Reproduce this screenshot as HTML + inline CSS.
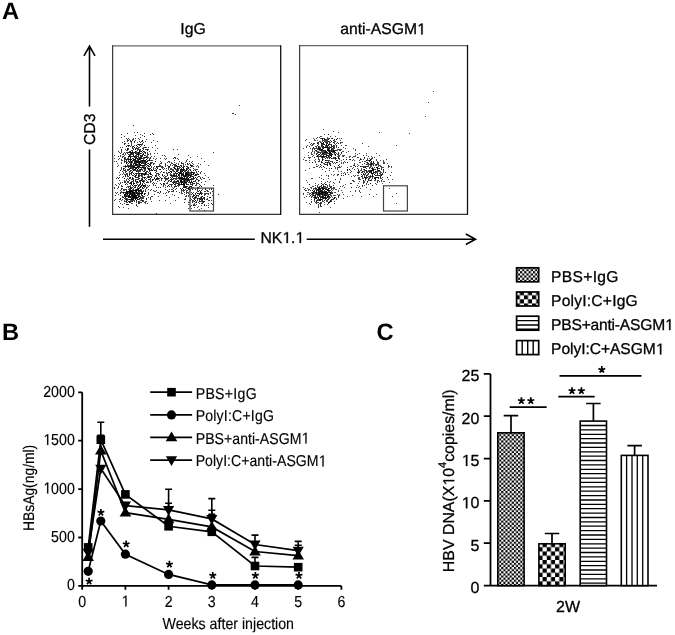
<!DOCTYPE html>
<html><head><meta charset="utf-8"><style>
html,body{margin:0;padding:0;background:#fff;}
body{width:675px;height:635px;overflow:hidden;}
svg{display:block;}
.h1{fill:none;stroke:none;}
text.tb{stroke-width:0.15px;}
text{font-family:"Liberation Sans",sans-serif;fill:#000;text-rendering:geometricPrecision;stroke:#000;stroke-width:0.3px;}
svg{will-change:transform;}
</style></head><body>
<svg width="675" height="635" viewBox="0 0 675 635">
<defs>
<pattern id="pfine" patternUnits="userSpaceOnUse" x="497" y="432" width="4.22" height="4.22"><rect width="4.22" height="4.22" fill="#fff"/><rect width="2.11" height="2.11" fill="#000"/><rect x="2.11" y="2.11" width="2.11" height="2.11" fill="#000"/></pattern>
<pattern id="pcheck" patternUnits="userSpaceOnUse" x="538.4" y="542.9" width="8.36" height="8.54"><rect width="8.36" height="8.54" fill="#fff"/><rect x="4.18" width="4.18" height="4.27" fill="#000"/><rect y="4.27" width="4.18" height="4.27" fill="#000"/></pattern>
<pattern id="pcheckL" patternUnits="userSpaceOnUse" x="515.7" y="291.1" width="8.2" height="8.2"><rect width="8.2" height="8.2" fill="#fff"/><rect x="4.1" width="4.1" height="4.1" fill="#000"/><rect y="4.1" width="4.1" height="4.1" fill="#000"/></pattern>
<pattern id="pfineL" patternUnits="userSpaceOnUse" x="515.7" y="266.9" width="4.3" height="4.3"><rect width="4.3" height="4.3" fill="#fff"/><rect width="2.15" height="2.15" fill="#000"/><rect x="2.15" y="2.15" width="2.15" height="2.15" fill="#000"/></pattern>
</defs>

<text x="2" y="19.4" font-size="23.7" font-weight="bold" style="stroke:none">A</text>
<text x="193.1" y="33.9" font-size="15.8" text-anchor="middle">IgG</text>
<text x="383" y="34.4" font-size="15.7" text-anchor="middle">anti-ASGM<tspan class="h1">1</tspan></text>
<path d="M112.6 45.8H280.7" stroke="#666" stroke-width="1.25"/><path d="M112.6 45.2V215" stroke="#3a3a3a" stroke-width="1.25"/><path d="M112.6 214.4H280.7" stroke="#333" stroke-width="1.25"/><path d="M280.7 45.2V215" stroke="#111" stroke-width="1.3"/>
<path d="M299.6 45.6H467.5" stroke="#666" stroke-width="1.25"/><path d="M299.6 45V214.9" stroke="#3a3a3a" stroke-width="1.25"/><path d="M299.6 214.3H467.5" stroke="#333" stroke-width="1.25"/><path d="M467.5 45V214.9" stroke="#111" stroke-width="1.3"/>
<path d="M134 165.5h1M134 156.5h1M128 157.5h1M144 164.5h1M144 162.5h1M139 161.5h1M123 168.5h1M139 164.5h1M122 142.5h1M129 155.5h1M138 159.5h1M140 153.5h1M138 163.5h1M130 177.5h1M140 171.5h1M131 152.5h1M133 158.5h1M140 162.5h1M132 150.5h1M131 172.5h1M129 162.5h1M139 145.5h1M136 173.5h1M120 156.5h1M135 151.5h1M139 159.5h1M124 168.5h1M141 169.5h1M147 163.5h1M136 147.5h1M140 153.5h1M132 147.5h1M128 154.5h1M146 139.5h1M124 162.5h1M147 165.5h1M121 134.5h1M138 152.5h1M127 169.5h1M144 161.5h1M137 164.5h1M148 166.5h1M140 165.5h1M123 172.5h1M143 165.5h1M120 153.5h1M142 141.5h1M134 170.5h1M125 176.5h1M140 158.5h1M138 166.5h1M136 171.5h1M130 155.5h1M144 160.5h1M129 169.5h1M147 155.5h1M125 158.5h1M134 157.5h1M146 149.5h1M145 147.5h1M129 166.5h1M144 168.5h1M138 161.5h1M137 165.5h1M134 162.5h1M140 160.5h1M141 165.5h1M151 163.5h1M132 156.5h1M135 169.5h1M133 163.5h1M150 134.5h1M127 162.5h1M139 162.5h1M132 166.5h1M138 154.5h1M154 163.5h1M131 159.5h1M134 159.5h1M114 155.5h1M143 148.5h1M135 169.5h1M142 174.5h1M122 156.5h1M133 166.5h1M144 133.5h1M144 145.5h1M141 145.5h1M137 171.5h1M134 161.5h1M142 161.5h1M135 175.5h1M144 157.5h1M157 148.5h1M143 157.5h1M137 167.5h1M137 166.5h1M124 144.5h1M140 150.5h1M127 145.5h1M145 167.5h1M147 150.5h1M136 148.5h1M141 175.5h1M129 175.5h1M143 158.5h1M120 174.5h1M135 153.5h1M139 164.5h1M147 149.5h1M144 174.5h1M147 158.5h1M130 170.5h1M136 161.5h1M147 157.5h1M118 156.5h1M121 168.5h1M138 153.5h1M135 168.5h1M136 173.5h1M135 170.5h1M147 176.5h1M130 168.5h1M121 149.5h1M120 170.5h1M126 159.5h1M134 159.5h1M131 162.5h1M149 160.5h1M140 170.5h1M134 147.5h1M131 170.5h1M123 154.5h1M143 167.5h1M136 168.5h1M137 148.5h1M123 153.5h1M143 154.5h1M128 152.5h1M124 158.5h1M126 163.5h1M117 163.5h1M130 140.5h1M141 157.5h1M118 151.5h1M138 155.5h1M142 167.5h1M141 163.5h1M146 166.5h1M139 139.5h1M142 173.5h1M133 155.5h1M151 142.5h1M139 184.5h1M128 166.5h1M150 158.5h1M140 169.5h1M128 159.5h1M138 168.5h1M135 158.5h1M128 156.5h1M142 161.5h1M129 151.5h1M156 171.5h1M140 134.5h1M140 164.5h1M149 164.5h1M135 165.5h1M120 170.5h1M138 152.5h1M146 178.5h1M125 153.5h1M138 161.5h1M132 150.5h1M152 170.5h1M126 146.5h1M149 169.5h1M150 168.5h1M129 162.5h1M119 152.5h1M135 165.5h1M130 158.5h1M139 163.5h1M140 162.5h1M133 167.5h1M136 151.5h1M131 159.5h1M135 161.5h1M135 161.5h1M134 147.5h1M139 170.5h1M139 158.5h1M139 150.5h1M121 160.5h1M128 167.5h1M127 133.5h1M127 175.5h1M133 146.5h1M130 165.5h1M139 161.5h1M147 167.5h1M135 165.5h1M148 169.5h1M143 149.5h1M134 167.5h1M133 170.5h1M140 169.5h1M134 185.5h1M145 157.5h1M136 185.5h1M133 168.5h1M143 160.5h1M126 161.5h1M138 171.5h1M142 160.5h1M142 165.5h1M137 160.5h1M134 166.5h1M127 153.5h1M136 145.5h1M132 139.5h1M130 165.5h1M140 159.5h1M134 145.5h1M150 165.5h1M144 151.5h1M134 141.5h1M142 169.5h1M121 159.5h1M140 142.5h1M121 149.5h1M131 145.5h1M136 162.5h1M140 167.5h1M147 171.5h1M125 154.5h1M127 149.5h1M135 160.5h1M139 144.5h1M126 159.5h1M134 156.5h1M135 152.5h1M141 163.5h1M135 153.5h1M134 132.5h1M128 160.5h1M124 161.5h1M137 146.5h1M134 156.5h1M139 166.5h1M135 151.5h1M134 159.5h1M141 162.5h1M130 146.5h1M133 152.5h1M127 158.5h1M132 161.5h1M140 155.5h1M154 156.5h1M144 161.5h1M144 136.5h1M130 162.5h1M140 183.5h1M138 172.5h1M141 169.5h1M139 158.5h1M139 149.5h1M145 149.5h1M137 181.5h1M134 160.5h1M145 160.5h1M129 162.5h1M140 167.5h1M129 177.5h1M149 160.5h1M138 155.5h1M147 152.5h1M141 155.5h1M130 167.5h1M146 159.5h1M130 168.5h1M135 163.5h1M147 171.5h1M131 182.5h1M136 167.5h1M130 159.5h1M122 177.5h1M146 147.5h1M124 143.5h1M145 155.5h1M135 156.5h1M135 149.5h1M136 145.5h1M135 163.5h1M139 157.5h1M128 161.5h1M132 175.5h1M141 158.5h1M132 152.5h1M128 156.5h1M138 165.5h1M140 180.5h1M130 160.5h1M157 141.5h1M131 161.5h1M137 164.5h1M134 163.5h1M136 167.5h1M121 151.5h1M135 149.5h1M127 166.5h1M130 166.5h1M141 163.5h1M139 158.5h1M125 159.5h1M139 154.5h1M135 167.5h1M129 166.5h1M150 154.5h1M137 158.5h1M148 163.5h1M143 153.5h1M135 159.5h1M122 174.5h1M143 142.5h1M141 158.5h1M139 163.5h1M124 157.5h1M147 154.5h1M128 146.5h1M126 163.5h1M149 164.5h1M137 182.5h1M131 153.5h1M140 165.5h1M128 148.5h1M138 162.5h1M125 157.5h1M131 164.5h1M135 159.5h1M133 170.5h1M146 156.5h1M142 152.5h1M136 167.5h1M147 156.5h1M135 161.5h1M124 160.5h1M130 163.5h1M127 140.5h1M136 162.5h1M131 168.5h1M133 153.5h1M139 144.5h1M130 159.5h1M142 158.5h1M138 153.5h1M138 176.5h1M130 183.5h1M130 160.5h1M137 170.5h1M126 138.5h1M140 167.5h1M140 186.5h1M137 162.5h1M143 163.5h1M148 147.5h1M133 125.5h1M142 156.5h1M143 181.5h1M135 157.5h1M132 151.5h1M131 166.5h1M136 160.5h1M134 169.5h1M139 158.5h1M141 158.5h1M127 174.5h1M139 150.5h1M144 163.5h1M123 176.5h1M138 168.5h1M137 158.5h1M123 169.5h1M136 157.5h1M138 160.5h1M141 156.5h1M135 138.5h1M132 166.5h1M146 156.5h1M135 175.5h1M133 167.5h1M149 160.5h1M145 152.5h1M137 159.5h1M136 171.5h1M154 153.5h1M131 164.5h1M127 164.5h1M140 157.5h1M140 144.5h1M141 144.5h1M130 154.5h1M132 168.5h1M136 156.5h1M140 175.5h1M136 163.5h1M145 162.5h1M125 184.5h1M153 140.5h1M135 164.5h1M143 166.5h1M133 149.5h1M136 170.5h1M127 149.5h1M135 140.5h1M133 155.5h1M139 152.5h1M129 156.5h1M135 153.5h1M136 167.5h1M145 177.5h1M129 155.5h1M116 178.5h1M130 159.5h1M140 146.5h1M139 159.5h1M121 162.5h1M145 141.5h1M142 162.5h1M139 164.5h1M146 157.5h1M142 155.5h1M141 151.5h1M135 177.5h1M139 158.5h1M127 152.5h1M137 169.5h1M139 165.5h1M135 173.5h1M132 154.5h1M142 160.5h1M133 154.5h1M133 166.5h1M138 147.5h1M139 161.5h1M128 167.5h1M133 156.5h1M142 173.5h1M130 164.5h1M129 183.5h1M132 171.5h1M130 168.5h1M153 134.5h1M132 165.5h1M135 153.5h1M152 160.5h1M123 168.5h1M122 171.5h1M131 161.5h1M145 161.5h1M125 143.5h1M145 167.5h1M129 168.5h1M139 166.5h1M118 156.5h1M143 167.5h1M142 135.5h1M137 164.5h1M155 150.5h1M133 160.5h1M142 155.5h1M144 152.5h1M138 154.5h1M137 153.5h1M123 170.5h1M138 154.5h1M137 169.5h1M128 158.5h1M140 165.5h1M133 138.5h1M145 163.5h1M136 157.5h1M138 155.5h1M128 152.5h1M131 153.5h1M126 166.5h1M125 166.5h1M128 163.5h1M146 162.5h1M130 160.5h1M137 142.5h1M131 161.5h1M132 160.5h1M141 167.5h1M143 165.5h1M133 159.5h1M133 156.5h1M134 142.5h1M133 159.5h1M128 159.5h1M140 158.5h1M152 133.5h1M134 141.5h1M143 186.5h1M116 161.5h1M140 156.5h1M140 137.5h1M142 163.5h1M136 154.5h1M140 155.5h1M137 154.5h1M118 159.5h1M137 167.5h1M129 159.5h1M140 161.5h1M145 179.5h1M128 140.5h1M142 175.5h1M143 168.5h1M131 152.5h1M142 150.5h1M121 150.5h1M155 179.5h1M130 152.5h1M137 152.5h1M146 159.5h1M127 173.5h1M131 162.5h1M135 156.5h1M138 153.5h1M121 137.5h1M126 152.5h1M135 160.5h1M140 161.5h1M129 152.5h1M119 158.5h1M139 165.5h1M135 158.5h1M143 160.5h1M141 165.5h1M137 173.5h1M131 156.5h1M129 152.5h1M148 177.5h1M136 165.5h1M145 168.5h1M145 147.5h1M131 164.5h1M147 161.5h1M129 156.5h1M130 151.5h1M147 153.5h1M136 181.5h1M145 163.5h1M131 164.5h1M148 166.5h1M145 160.5h1M140 157.5h1M139 173.5h1M124 159.5h1M137 154.5h1M133 167.5h1M151 166.5h1M138 144.5h1M151 160.5h1M135 148.5h1M135 149.5h1M136 164.5h1M136 162.5h1M129 174.5h1M130 141.5h1M134 152.5h1M128 156.5h1M138 148.5h1M134 174.5h1M141 158.5h1M136 158.5h1M135 167.5h1M135 135.5h1M135 151.5h1M141 153.5h1M137 181.5h1M127 148.5h1M124 136.5h1M121 163.5h1M131 141.5h1M124 166.5h1M129 156.5h1M138 173.5h1M151 170.5h1M137 161.5h1M150 174.5h1M133 164.5h1M138 160.5h1M132 146.5h1M131 144.5h1M145 165.5h1M126 173.5h1M142 140.5h1M150 168.5h1M152 147.5h1M140 164.5h1M137 161.5h1M144 145.5h1M126 146.5h1M131 153.5h1M138 162.5h1M136 153.5h1M132 169.5h1M141 161.5h1M133 175.5h1M131 166.5h1M144 157.5h1M142 148.5h1M143 161.5h1M123 166.5h1M129 172.5h1M130 158.5h1M138 156.5h1M138 154.5h1M141 160.5h1M137 132.5h1M145 160.5h1M122 160.5h1M139 170.5h1M127 175.5h1M134 183.5h1M134 166.5h1M133 148.5h1M144 169.5h1M148 168.5h1M131 143.5h1M130 153.5h1M129 165.5h1M138 157.5h1M137 158.5h1M137 167.5h1M143 153.5h1M124 174.5h1M136 171.5h1M123 156.5h1M136 145.5h1M131 167.5h1M144 175.5h1M129 145.5h1M140 169.5h1M137 146.5h1M142 167.5h1M140 155.5h1M138 167.5h1M131 141.5h1M138 164.5h1M136 168.5h1M131 159.5h1M133 165.5h1M148 157.5h1M152 175.5h1M142 165.5h1M149 158.5h1M135 149.5h1M139 173.5h1M140 164.5h1M134 161.5h1M124 170.5h1M132 148.5h1M130 151.5h1M142 170.5h1M125 169.5h1M142 154.5h1M124 152.5h1M131 163.5h1M133 139.5h1M137 144.5h1M143 147.5h1M130 151.5h1M131 172.5h1M142 166.5h1M138 144.5h1M131 154.5h1M128 165.5h1M130 152.5h1M127 139.5h1M140 173.5h1M137 150.5h1M114 161.5h1M145 162.5h1M143 174.5h1M144 155.5h1M144 167.5h1M124 155.5h1M124 158.5h1M140 149.5h1M119 172.5h1M138 174.5h1M125 170.5h1M152 180.5h1M134 162.5h1M134 169.5h1M144 160.5h1M125 167.5h1M132 166.5h1M138 176.5h1M144 155.5h1M138 177.5h1M131 164.5h1M145 172.5h1M140 146.5h1M126 162.5h1M139 185.5h1M129 171.5h1M142 143.5h1M129 161.5h1M132 158.5h1M139 151.5h1M139 153.5h1M131 165.5h1M131 162.5h1M148 160.5h1M134 167.5h1M133 170.5h1M125 166.5h1M132 152.5h1M149 151.5h1M149 166.5h1M147 150.5h1M145 174.5h1M135 158.5h1M155 161.5h1M132 153.5h1M139 163.5h1M137 177.5h1M133 164.5h1M147 149.5h1M144 178.5h1M125 149.5h1M127 141.5h1M139 141.5h1M139 174.5h1M123 156.5h1M121 167.5h1M130 157.5h1M136 165.5h1M133 160.5h1M131 161.5h1M126 160.5h1M120 155.5h1M150 160.5h1M126 162.5h1M128 143.5h1M130 167.5h1M138 159.5h1M128 149.5h1M146 162.5h1M128 138.5h1M125 184.5h1M127 159.5h1M137 158.5h1M133 146.5h1M127 176.5h1M130 168.5h1M122 157.5h1M138 170.5h1M127 165.5h1M139 152.5h1M139 151.5h1M129 159.5h1M114 158.5h1M128 145.5h1M132 167.5h1M132 172.5h1M126 146.5h1M148 163.5h1M143 151.5h1M142 162.5h1M141 160.5h1M145 153.5h1M128 145.5h1M145 152.5h1M127 150.5h1M132 147.5h1M133 153.5h1M131 150.5h1M136 155.5h1M136 162.5h1M138 138.5h1M131 152.5h1M142 144.5h1M130 157.5h1M133 169.5h1M132 169.5h1M124 141.5h1M145 164.5h1M139 161.5h1M139 147.5h1M143 154.5h1M143 160.5h1M120 147.5h1M144 158.5h1M132 162.5h1M132 154.5h1M136 161.5h1M147 160.5h1M150 178.5h1M149 170.5h1M137 161.5h1M134 152.5h1M135 153.5h1M148 165.5h1M132 140.5h1M135 155.5h1M127 148.5h1M118 165.5h1M135 185.5h1M135 158.5h1M147 161.5h1M137 156.5h1M131 174.5h1M143 177.5h1M133 160.5h1M129 169.5h1M125 165.5h1M144 174.5h1M128 170.5h1M130 152.5h1M125 171.5h1M148 154.5h1M130 156.5h1M155 170.5h1M131 142.5h1M130 171.5h1M150 157.5h1M130 154.5h1M121 169.5h1M127 170.5h1M122 147.5h1M138 152.5h1M142 160.5h1M126 166.5h1M142 140.5h1M150 164.5h1M141 141.5h1M130 156.5h1M144 145.5h1M129 139.5h1M134 163.5h1M122 154.5h1M139 175.5h1M141 156.5h1M126 150.5h1M130 161.5h1M135 176.5h1M138 149.5h1M148 169.5h1M136 152.5h1M121 149.5h1M143 151.5h1M125 161.5h1M137 166.5h1M141 174.5h1M129 169.5h1M128 166.5h1M137 162.5h1M143 159.5h1M144 168.5h1M137 154.5h1M130 154.5h1M134 159.5h1M159 166.5h1M141 151.5h1M130 156.5h1M137 149.5h1M148 154.5h1M144 136.5h1M135 162.5h1M137 166.5h1M138 161.5h1M121 152.5h1M117 166.5h1M138 158.5h1M129 154.5h1M145 203.5h1M132 201.5h1M121 185.5h1M129 190.5h1M129 195.5h1M154 191.5h1M133 196.5h1M132 199.5h1M145 189.5h1M134 193.5h1M135 187.5h1M120 183.5h1M136 195.5h1M133 183.5h1M130 191.5h1M123 190.5h1M137 197.5h1M132 197.5h1M128 195.5h1M133 197.5h1M132 194.5h1M132 191.5h1M148 197.5h1M136 205.5h1M142 187.5h1M137 199.5h1M146 201.5h1M138 189.5h1M126 196.5h1M136 190.5h1M130 193.5h1M133 196.5h1M130 189.5h1M141 202.5h1M132 199.5h1M136 198.5h1M136 191.5h1M137 199.5h1M126 204.5h1M147 203.5h1M146 198.5h1M130 192.5h1M127 195.5h1M132 198.5h1M118 206.5h1M148 194.5h1M137 197.5h1M134 193.5h1M132 191.5h1M134 194.5h1M135 190.5h1M133 195.5h1M137 189.5h1M135 199.5h1M137 193.5h1M129 193.5h1M138 202.5h1M131 191.5h1M135 195.5h1M126 191.5h1M132 198.5h1M124 190.5h1M136 189.5h1M133 196.5h1M132 190.5h1M132 193.5h1M135 190.5h1M140 186.5h1M131 195.5h1M139 192.5h1M136 192.5h1M138 203.5h1M130 197.5h1M126 199.5h1M141 195.5h1M125 196.5h1M141 200.5h1M138 186.5h1M128 201.5h1M124 200.5h1M146 198.5h1M140 193.5h1M124 194.5h1M131 194.5h1M137 194.5h1M134 197.5h1M132 203.5h1M136 195.5h1M131 191.5h1M142 195.5h1M125 192.5h1M132 192.5h1M140 189.5h1M136 195.5h1M124 195.5h1M132 197.5h1M129 196.5h1M121 189.5h1M138 199.5h1M132 192.5h1M140 184.5h1M127 198.5h1M137 190.5h1M119 201.5h1M134 190.5h1M133 199.5h1M114 200.5h1M138 185.5h1M138 186.5h1M140 196.5h1M148 192.5h1M133 200.5h1M128 191.5h1M130 194.5h1M125 197.5h1M136 195.5h1M144 193.5h1M142 192.5h1M138 185.5h1M134 194.5h1M129 192.5h1M130 191.5h1M117 192.5h1M129 192.5h1M125 194.5h1M138 193.5h1M129 201.5h1M139 199.5h1M141 193.5h1M132 200.5h1M129 194.5h1M135 196.5h1M131 199.5h1M131 198.5h1M140 198.5h1M138 189.5h1M123 192.5h1M136 202.5h1M124 196.5h1M127 191.5h1M131 198.5h1M134 200.5h1M126 199.5h1M139 195.5h1M136 192.5h1M125 193.5h1M128 208.5h1M129 202.5h1M134 196.5h1M138 191.5h1M139 196.5h1M122 197.5h1M136 197.5h1M144 193.5h1M136 198.5h1M126 200.5h1M122 188.5h1M136 189.5h1M132 187.5h1M133 189.5h1M135 187.5h1M136 193.5h1M133 194.5h1M133 188.5h1M115 195.5h1M126 192.5h1M135 185.5h1M127 192.5h1M125 196.5h1M132 191.5h1M126 198.5h1M128 197.5h1M136 185.5h1M125 195.5h1M135 198.5h1M138 199.5h1M130 193.5h1M138 192.5h1M140 187.5h1M137 194.5h1M119 199.5h1M135 195.5h1M125 192.5h1M143 191.5h1M124 194.5h1M130 190.5h1M127 200.5h1M122 204.5h1M129 189.5h1M138 197.5h1M125 198.5h1M120 190.5h1M140 193.5h1M123 197.5h1M139 194.5h1M120 193.5h1M135 198.5h1M145 193.5h1M129 194.5h1M141 190.5h1M142 181.5h1M138 191.5h1M136 198.5h1M124 194.5h1M134 197.5h1M126 190.5h1M119 207.5h1M131 193.5h1M122 199.5h1M129 201.5h1M138 195.5h1M138 189.5h1M130 192.5h1M124 195.5h1M131 201.5h1M126 192.5h1M135 196.5h1M133 192.5h1M136 196.5h1M120 193.5h1M123 189.5h1M134 195.5h1M133 190.5h1M131 190.5h1M135 198.5h1M145 201.5h1M127 192.5h1M126 196.5h1M146 198.5h1M117 188.5h1M123 197.5h1M133 196.5h1M145 191.5h1M127 204.5h1M135 191.5h1M118 187.5h1M115 195.5h1M133 199.5h1M132 191.5h1M127 204.5h1M120 195.5h1M133 197.5h1M130 197.5h1M138 194.5h1M129 194.5h1M126 194.5h1M130 196.5h1M142 201.5h1M129 197.5h1M135 198.5h1M133 196.5h1M129 191.5h1M139 201.5h1M137 197.5h1M134 192.5h1M120 198.5h1M134 192.5h1M126 201.5h1M120 203.5h1M137 206.5h1M127 194.5h1M129 195.5h1M131 191.5h1M140 191.5h1M129 197.5h1M129 192.5h1M135 193.5h1M124 194.5h1M131 203.5h1M125 199.5h1M127 193.5h1M130 196.5h1M139 203.5h1M128 201.5h1M139 198.5h1M127 199.5h1M132 196.5h1M131 198.5h1M140 200.5h1M131 199.5h1M143 190.5h1M143 188.5h1M136 197.5h1M143 196.5h1M129 191.5h1M124 198.5h1M131 191.5h1M136 191.5h1M129 192.5h1M144 202.5h1M131 187.5h1M134 195.5h1M135 197.5h1M130 199.5h1M138 196.5h1M130 192.5h1M137 189.5h1M131 191.5h1M123 197.5h1M132 195.5h1M139 187.5h1M132 196.5h1M138 189.5h1M138 196.5h1M142 200.5h1M136 205.5h1M132 192.5h1M130 190.5h1M132 185.5h1M132 197.5h1M139 193.5h1M142 191.5h1M132 185.5h1M127 191.5h1M143 197.5h1M125 197.5h1M136 193.5h1M133 193.5h1M129 186.5h1M132 201.5h1M142 193.5h1M127 194.5h1M139 196.5h1M129 196.5h1M131 197.5h1M130 188.5h1M133 198.5h1M125 194.5h1M138 193.5h1M128 204.5h1M138 199.5h1M126 202.5h1M121 192.5h1M138 201.5h1M126 191.5h1M134 185.5h1M137 197.5h1M129 197.5h1M138 196.5h1M136 202.5h1M129 195.5h1M129 199.5h1M130 197.5h1M133 195.5h1M144 194.5h1M142 198.5h1M141 194.5h1M139 198.5h1M128 196.5h1M132 194.5h1M141 191.5h1M121 186.5h1M129 192.5h1M133 197.5h1M144 196.5h1M136 191.5h1M136 201.5h1M142 185.5h1M139 202.5h1M138 188.5h1M130 197.5h1M135 191.5h1M126 199.5h1M124 201.5h1M133 196.5h1M124 192.5h1M137 188.5h1M146 188.5h1M124 195.5h1M136 198.5h1M130 194.5h1M131 192.5h1M115 199.5h1M134 195.5h1M128 196.5h1M132 194.5h1M140 187.5h1M134 190.5h1M130 201.5h1M125 194.5h1M129 199.5h1M126 187.5h1M136 193.5h1M130 199.5h1M127 193.5h1M133 196.5h1M129 199.5h1M148 193.5h1M145 185.5h1M142 193.5h1M133 193.5h1M128 189.5h1M130 200.5h1M140 193.5h1M129 191.5h1M124 203.5h1M137 195.5h1M129 190.5h1M141 198.5h1M126 199.5h1M125 197.5h1M126 193.5h1M136 196.5h1M139 191.5h1M143 201.5h1M132 197.5h1M127 194.5h1M124 195.5h1M134 201.5h1M139 198.5h1M130 193.5h1M130 196.5h1M120 198.5h1M122 192.5h1M133 192.5h1M144 194.5h1M143 200.5h1M129 196.5h1M141 193.5h1M133 192.5h1M133 193.5h1M133 199.5h1M142 195.5h1M134 198.5h1M131 190.5h1M140 190.5h1M139 190.5h1M145 190.5h1M138 201.5h1M126 201.5h1M127 186.5h1M137 198.5h1M131 183.5h1M132 193.5h1M130 193.5h1M120 192.5h1M145 202.5h1M130 191.5h1M135 199.5h1M137 189.5h1M134 195.5h1M142 200.5h1M136 200.5h1M130 202.5h1M130 196.5h1M139 190.5h1M128 186.5h1M134 194.5h1M130 197.5h1M118 194.5h1M133 193.5h1M138 203.5h1M130 190.5h1M128 195.5h1M136 191.5h1M139 190.5h1M138 196.5h1M136 204.5h1M131 194.5h1M136 198.5h1M124 196.5h1M128 197.5h1M142 195.5h1M132 195.5h1M136 195.5h1M130 191.5h1M131 200.5h1M132 201.5h1M115 192.5h1M134 194.5h1M121 191.5h1M141 189.5h1M126 189.5h1M129 197.5h1M136 185.5h1M142 192.5h1M129 202.5h1M132 189.5h1M128 191.5h1M126 193.5h1M138 196.5h1M123 207.5h1M126 195.5h1M133 198.5h1M130 197.5h1M147 195.5h1M125 196.5h1M127 193.5h1M134 196.5h1M131 198.5h1M131 188.5h1M138 193.5h1M141 191.5h1M136 196.5h1M114 188.5h1M125 201.5h1M120 199.5h1M140 197.5h1M137 192.5h1M132 196.5h1M135 198.5h1M131 191.5h1M129 196.5h1M121 189.5h1M130 192.5h1M131 182.5h1M130 193.5h1M138 185.5h1M130 197.5h1M136 200.5h1M140 190.5h1M137 193.5h1M127 202.5h1M128 191.5h1M130 191.5h1M139 196.5h1M142 196.5h1M128 199.5h1M128 192.5h1M131 195.5h1M141 192.5h1M135 194.5h1M124 189.5h1M131 196.5h1M135 197.5h1M133 192.5h1M135 190.5h1M123 193.5h1M123 192.5h1M127 192.5h1M132 191.5h1M130 187.5h1M133 190.5h1M135 181.5h1M127 196.5h1M116 193.5h1M133 195.5h1M122 196.5h1M134 190.5h1M138 194.5h1M133 192.5h1M136 195.5h1M140 197.5h1M128 193.5h1M139 193.5h1M135 197.5h1M131 184.5h1M133 195.5h1M133 191.5h1M141 194.5h1M128 191.5h1M135 189.5h1M126 204.5h1M141 199.5h1M142 197.5h1M121 200.5h1M141 197.5h1M167 186.5h1M194 173.5h1M184 182.5h1M182 184.5h1M184 182.5h1M184 166.5h1M175 200.5h1M185 186.5h1M192 189.5h1M188 172.5h1M183 163.5h1M181 183.5h1M165 178.5h1M190 186.5h1M175 172.5h1M168 169.5h1M187 192.5h1M174 187.5h1M187 173.5h1M201 158.5h1M182 178.5h1M201 190.5h1M202 177.5h1M191 186.5h1M187 179.5h1M181 174.5h1M173 191.5h1M179 161.5h1M185 176.5h1M184 190.5h1M182 175.5h1M177 176.5h1M179 178.5h1M209 179.5h1M176 191.5h1M190 182.5h1M189 182.5h1M189 187.5h1M191 186.5h1M179 176.5h1M177 183.5h1M190 173.5h1M188 196.5h1M193 168.5h1M182 181.5h1M183 179.5h1M193 179.5h1M174 182.5h1M182 177.5h1M178 166.5h1M173 174.5h1M174 157.5h1M193 168.5h1M177 180.5h1M163 186.5h1M177 181.5h1M179 179.5h1M184 176.5h1M168 166.5h1M183 187.5h1M178 180.5h1M184 180.5h1M191 166.5h1M185 175.5h1M180 170.5h1M176 169.5h1M174 195.5h1M197 177.5h1M189 169.5h1M160 163.5h1M184 187.5h1M183 169.5h1M181 169.5h1M171 175.5h1M180 171.5h1M176 170.5h1M185 187.5h1M181 193.5h1M170 179.5h1M173 175.5h1M184 181.5h1M192 172.5h1M173 175.5h1M185 171.5h1M190 189.5h1M171 179.5h1M191 162.5h1M185 175.5h1M171 186.5h1M185 173.5h1M187 181.5h1M189 181.5h1M186 168.5h1M180 177.5h1M160 192.5h1M180 169.5h1M168 178.5h1M183 172.5h1M180 170.5h1M177 176.5h1M178 181.5h1M182 177.5h1M186 186.5h1M188 178.5h1M182 171.5h1M180 181.5h1M185 174.5h1M172 165.5h1M186 184.5h1M186 166.5h1M181 178.5h1M175 179.5h1M181 170.5h1M173 182.5h1M186 170.5h1M175 183.5h1M188 174.5h1M196 174.5h1M174 184.5h1M181 179.5h1M183 169.5h1M173 175.5h1M195 169.5h1M194 178.5h1M174 178.5h1M188 170.5h1M165 179.5h1M174 180.5h1M167 175.5h1M176 166.5h1M181 178.5h1M178 168.5h1M185 164.5h1M187 180.5h1M197 183.5h1M186 178.5h1M183 167.5h1M195 180.5h1M181 168.5h1M195 180.5h1M173 181.5h1M199 176.5h1M186 173.5h1M178 184.5h1M208 177.5h1M182 182.5h1M180 182.5h1M190 169.5h1M174 176.5h1M190 179.5h1M193 166.5h1M187 172.5h1M184 179.5h1M175 175.5h1M173 178.5h1M176 173.5h1M185 172.5h1M192 172.5h1M190 179.5h1M174 175.5h1M176 174.5h1M181 190.5h1M180 188.5h1M187 167.5h1M164 181.5h1M167 182.5h1M191 179.5h1M181 175.5h1M185 174.5h1M179 174.5h1M193 172.5h1M186 168.5h1M177 167.5h1M181 181.5h1M186 173.5h1M188 174.5h1M186 178.5h1M187 159.5h1M172 182.5h1M182 193.5h1M181 172.5h1M195 181.5h1M199 180.5h1M181 182.5h1M177 173.5h1M178 175.5h1M189 173.5h1M186 173.5h1M190 157.5h1M181 178.5h1M174 184.5h1M185 186.5h1M191 181.5h1M182 169.5h1M181 173.5h1M185 173.5h1M208 165.5h1M193 173.5h1M181 183.5h1M183 168.5h1M186 175.5h1M166 178.5h1M174 171.5h1M187 179.5h1M181 192.5h1M186 172.5h1M185 176.5h1M165 165.5h1M172 191.5h1M181 174.5h1M178 184.5h1M183 189.5h1M189 188.5h1M182 179.5h1M179 175.5h1M169 172.5h1M175 172.5h1M193 178.5h1M193 183.5h1M191 184.5h1M178 182.5h1M180 173.5h1M193 192.5h1M175 189.5h1M190 170.5h1M185 179.5h1M186 174.5h1M172 177.5h1M190 182.5h1M188 184.5h1M175 176.5h1M186 184.5h1M184 180.5h1M184 192.5h1M165 176.5h1M203 178.5h1M168 177.5h1M171 172.5h1M185 189.5h1M187 181.5h1M191 178.5h1M176 176.5h1M186 175.5h1M178 174.5h1M171 169.5h1M182 174.5h1M183 187.5h1M185 176.5h1M173 169.5h1M186 170.5h1M187 169.5h1M184 176.5h1M191 174.5h1M180 178.5h1M183 189.5h1M181 173.5h1M180 180.5h1M185 182.5h1M172 194.5h1M198 176.5h1M173 178.5h1M186 160.5h1M183 166.5h1M187 186.5h1M191 166.5h1M194 183.5h1M180 180.5h1M195 174.5h1M183 172.5h1M192 161.5h1M195 170.5h1M191 165.5h1M175 172.5h1M190 165.5h1M188 172.5h1M193 174.5h1M187 175.5h1M198 174.5h1M183 191.5h1M184 181.5h1M177 178.5h1M164 177.5h1M178 166.5h1M171 185.5h1M186 166.5h1M198 171.5h1M180 178.5h1M174 165.5h1M177 185.5h1M191 165.5h1M193 177.5h1M187 177.5h1M186 169.5h1M176 171.5h1M180 181.5h1M173 188.5h1M178 172.5h1M189 180.5h1M180 169.5h1M175 165.5h1M192 184.5h1M198 180.5h1M186 182.5h1M191 175.5h1M186 192.5h1M169 166.5h1M175 182.5h1M193 174.5h1M188 176.5h1M185 173.5h1M183 176.5h1M192 193.5h1M168 180.5h1M183 183.5h1M192 182.5h1M190 170.5h1M169 189.5h1M193 170.5h1M194 181.5h1M163 183.5h1M175 185.5h1M177 171.5h1M170 175.5h1M191 172.5h1M168 192.5h1M198 181.5h1M179 168.5h1M170 181.5h1M194 169.5h1M183 174.5h1M181 180.5h1M200 172.5h1M190 184.5h1M181 175.5h1M172 184.5h1M179 172.5h1M184 170.5h1M174 174.5h1M195 175.5h1M187 166.5h1M167 190.5h1M180 165.5h1M182 181.5h1M169 170.5h1M185 170.5h1M190 183.5h1M187 173.5h1M183 172.5h1M182 179.5h1M181 184.5h1M204 173.5h1M186 182.5h1M188 175.5h1M179 184.5h1M188 180.5h1M176 181.5h1M190 175.5h1M188 192.5h1M168 181.5h1M173 167.5h1M181 180.5h1M183 168.5h1M171 172.5h1M183 170.5h1M171 189.5h1M176 175.5h1M178 172.5h1M183 174.5h1M188 168.5h1M171 191.5h1M182 182.5h1M193 181.5h1M183 165.5h1M170 184.5h1M189 181.5h1M169 161.5h1M174 168.5h1M184 169.5h1M196 172.5h1M178 183.5h1M186 170.5h1M190 190.5h1M173 175.5h1M174 162.5h1M188 182.5h1M191 180.5h1M166 176.5h1M177 168.5h1M174 182.5h1M181 191.5h1M187 163.5h1M190 186.5h1M183 168.5h1M198 167.5h1M182 163.5h1M173 164.5h1M192 185.5h1M180 167.5h1M183 179.5h1M170 168.5h1M182 182.5h1M184 180.5h1M173 158.5h1M186 170.5h1M182 174.5h1M187 171.5h1M195 177.5h1M187 181.5h1M192 179.5h1M168 172.5h1M198 180.5h1M188 180.5h1M178 172.5h1M178 185.5h1M186 190.5h1M187 190.5h1M187 168.5h1M197 179.5h1M193 178.5h1M180 178.5h1M174 168.5h1M176 173.5h1M172 176.5h1M186 191.5h1M198 176.5h1M190 175.5h1M186 176.5h1M178 177.5h1M171 180.5h1M181 169.5h1M180 181.5h1M177 180.5h1M188 188.5h1M174 176.5h1M187 188.5h1M185 182.5h1M171 172.5h1M197 174.5h1M201 171.5h1M181 165.5h1M188 178.5h1M200 178.5h1M181 166.5h1M182 184.5h1M189 186.5h1M190 176.5h1M188 178.5h1M172 189.5h1M186 169.5h1M186 179.5h1M191 187.5h1M157 181.5h1M196 169.5h1M167 179.5h1M186 179.5h1M174 173.5h1M185 182.5h1M201 179.5h1M178 159.5h1M192 176.5h1M182 169.5h1M189 163.5h1M184 177.5h1M186 186.5h1M182 177.5h1M190 165.5h1M181 177.5h1M191 171.5h1M190 179.5h1M170 165.5h1M171 178.5h1M185 182.5h1M190 172.5h1M192 183.5h1M187 180.5h1M172 179.5h1M174 168.5h1M180 178.5h1M183 174.5h1M175 178.5h1M177 166.5h1M184 187.5h1M180 169.5h1M195 189.5h1M181 175.5h1M185 199.5h1M184 184.5h1M187 163.5h1M174 167.5h1M187 177.5h1M198 174.5h1M186 177.5h1M184 194.5h1M185 187.5h1M194 172.5h1M189 174.5h1M184 178.5h1M183 173.5h1M196 175.5h1M189 189.5h1M188 184.5h1M195 185.5h1M198 166.5h1M200 177.5h1M168 172.5h1M171 176.5h1M170 169.5h1M186 178.5h1M176 175.5h1M182 177.5h1M183 175.5h1M190 164.5h1M179 177.5h1M180 172.5h1M179 178.5h1M194 175.5h1M181 179.5h1M181 162.5h1M185 174.5h1M178 181.5h1M183 172.5h1M165 164.5h1M183 176.5h1M187 178.5h1M179 167.5h1M174 175.5h1M173 182.5h1M172 163.5h1M181 163.5h1M197 169.5h1M183 175.5h1M176 163.5h1M167 183.5h1M192 193.5h1M171 181.5h1M183 183.5h1M179 182.5h1M191 181.5h1M195 175.5h1M196 171.5h1M197 156.5h1M183 170.5h1M183 184.5h1M189 177.5h1M197 165.5h1M176 188.5h1M186 161.5h1M186 168.5h1M196 185.5h1M178 186.5h1M176 183.5h1M188 176.5h1M171 174.5h1M164 172.5h1M167 186.5h1M175 158.5h1M188 179.5h1M179 192.5h1M190 177.5h1M178 154.5h1M187 184.5h1M178 166.5h1M183 164.5h1M183 182.5h1M196 178.5h1M185 182.5h1M195 174.5h1M173 171.5h1M172 170.5h1M182 179.5h1M184 177.5h1M180 180.5h1M191 182.5h1M196 174.5h1M181 189.5h1M185 180.5h1M180 184.5h1M180 169.5h1M182 173.5h1M190 174.5h1M184 175.5h1M186 172.5h1M192 166.5h1M180 171.5h1M189 177.5h1M187 174.5h1M177 168.5h1M180 172.5h1M185 179.5h1M191 176.5h1M177 169.5h1M184 179.5h1M200 178.5h1M198 191.5h1M174 186.5h1M193 187.5h1M183 184.5h1M179 176.5h1M183 190.5h1M181 184.5h1M184 171.5h1M185 181.5h1M177 181.5h1M177 170.5h1M185 175.5h1M175 164.5h1M183 178.5h1M179 178.5h1M170 179.5h1M187 179.5h1M178 177.5h1M184 185.5h1M185 178.5h1M177 183.5h1M193 173.5h1M188 179.5h1M183 167.5h1M198 163.5h1M186 174.5h1M193 173.5h1M183 181.5h1M187 173.5h1M189 179.5h1M191 173.5h1M183 174.5h1M176 178.5h1M186 187.5h1M180 179.5h1M193 176.5h1M184 178.5h1M177 169.5h1M192 178.5h1M182 167.5h1M184 185.5h1M173 170.5h1M192 187.5h1M196 172.5h1M188 171.5h1M187 174.5h1M185 187.5h1M186 175.5h1M183 178.5h1M179 178.5h1M188 188.5h1M166 168.5h1M173 183.5h1M204 178.5h1M184 185.5h1M162 175.5h1M157 178.5h1M179 173.5h1M186 172.5h1M192 176.5h1M186 195.5h1M179 183.5h1M176 186.5h1M191 178.5h1M191 188.5h1M195 177.5h1M183 185.5h1M171 172.5h1M187 181.5h1M199 190.5h1M186 180.5h1M172 175.5h1M185 175.5h1M184 181.5h1M175 172.5h1M168 185.5h1M174 164.5h1M189 175.5h1M191 174.5h1M201 182.5h1M184 177.5h1M181 183.5h1M200 173.5h1M174 181.5h1M192 165.5h1M177 169.5h1M188 180.5h1M177 168.5h1M189 161.5h1M188 175.5h1M199 184.5h1M178 174.5h1M181 171.5h1M184 184.5h1M170 175.5h1M196 182.5h1M176 171.5h1M176 165.5h1M193 177.5h1M177 166.5h1M180 173.5h1M197 173.5h1M184 184.5h1M189 175.5h1M165 187.5h1M188 173.5h1M182 169.5h1M175 166.5h1M187 180.5h1M184 182.5h1M187 177.5h1M176 181.5h1M193 181.5h1M193 173.5h1M175 186.5h1M178 178.5h1M181 177.5h1M181 173.5h1M168 191.5h1M185 162.5h1M175 168.5h1M177 158.5h1M188 189.5h1M181 182.5h1M188 167.5h1M193 164.5h1M178 174.5h1M193 177.5h1M182 171.5h1M184 177.5h1M189 187.5h1M189 177.5h1M182 188.5h1M185 176.5h1M198 188.5h1M188 176.5h1M178 184.5h1M179 184.5h1M176 177.5h1M186 178.5h1M185 179.5h1M174 168.5h1M182 190.5h1M182 170.5h1M178 177.5h1M193 172.5h1M188 178.5h1M180 170.5h1M182 171.5h1M187 164.5h1M192 182.5h1M188 187.5h1M188 164.5h1M183 180.5h1M177 168.5h1M187 180.5h1M179 175.5h1M179 172.5h1M183 184.5h1M170 174.5h1M196 179.5h1M184 183.5h1M175 168.5h1M169 166.5h1M185 183.5h1M180 172.5h1M186 181.5h1M201 186.5h1M196 183.5h1M200 192.5h1M195 205.5h1M207 199.5h1M201 197.5h1M196 196.5h1M210 192.5h1M195 197.5h1M204 201.5h1M193 196.5h1M197 190.5h1M199 194.5h1M204 199.5h1M194 197.5h1M197 193.5h1M196 202.5h1M197 187.5h1M194 201.5h1M212 191.5h1M197 195.5h1M191 199.5h1M199 198.5h1M212 195.5h1M204 201.5h1M195 193.5h1M208 200.5h1M200 191.5h1M204 199.5h1M212 204.5h1M204 198.5h1M199 194.5h1M201 198.5h1M203 202.5h1M201 194.5h1M204 205.5h1M194 199.5h1M202 199.5h1M202 196.5h1M198 206.5h1M209 189.5h1M184 199.5h1M195 194.5h1M190 198.5h1M199 194.5h1M204 210.5h1M208 203.5h1M197 200.5h1M199 203.5h1M202 196.5h1M202 193.5h1M204 205.5h1M197 199.5h1M189 202.5h1M204 191.5h1M209 197.5h1M189 189.5h1M204 195.5h1M205 188.5h1M198 202.5h1M195 200.5h1M197 198.5h1M201 208.5h1M192 201.5h1M207 190.5h1M199 209.5h1M205 181.5h1M198 187.5h1M201 193.5h1M196 192.5h1M201 194.5h1M194 195.5h1M201 192.5h1M205 188.5h1M201 194.5h1M208 193.5h1M195 189.5h1M211 200.5h1M193 195.5h1M193 205.5h1M201 186.5h1M200 201.5h1M199 199.5h1M198 198.5h1M200 193.5h1M201 197.5h1M199 193.5h1M193 198.5h1M204 184.5h1M196 204.5h1M204 193.5h1M207 191.5h1M194 207.5h1M196 195.5h1M189 191.5h1M192 196.5h1M188 202.5h1M197 193.5h1M195 200.5h1M208 194.5h1M208 205.5h1M207 198.5h1M190 200.5h1M197 198.5h1M188 195.5h1M200 191.5h1M201 205.5h1M200 193.5h1M213 185.5h1M194 199.5h1M196 184.5h1M201 201.5h1M194 204.5h1M202 203.5h1M190 196.5h1M208 207.5h1M207 196.5h1M200 193.5h1M205 193.5h1M200 185.5h1M190 206.5h1M199 198.5h1M186 196.5h1M211 188.5h1M185 196.5h1M196 195.5h1M192 189.5h1M192 200.5h1M199 201.5h1M193 200.5h1M196 197.5h1M204 197.5h1M197 188.5h1M199 201.5h1M195 196.5h1M189 189.5h1M201 203.5h1M197 188.5h1M197 188.5h1M197 207.5h1M201 196.5h1M205 194.5h1M201 198.5h1M202 189.5h1M203 201.5h1M186 182.5h1M194 205.5h1M199 200.5h1M202 201.5h1M195 193.5h1M201 200.5h1M202 198.5h1M196 202.5h1M202 202.5h1M184 202.5h1M185 198.5h1M195 197.5h1M196 195.5h1M200 198.5h1M194 183.5h1M194 199.5h1M194 199.5h1M197 191.5h1M206 205.5h1M198 196.5h1M205 189.5h1M194 203.5h1M204 194.5h1M194 198.5h1M191 194.5h1M198 183.5h1M203 201.5h1M205 189.5h1M191 192.5h1M191 208.5h1M193 195.5h1M200 199.5h1M208 191.5h1M204 197.5h1M192 197.5h1M191 205.5h1M195 202.5h1M207 193.5h1M194 197.5h1M193 201.5h1M200 192.5h1M195 200.5h1M190 206.5h1M194 195.5h1M193 205.5h1M204 204.5h1M203 197.5h1M209 200.5h1M202 200.5h1M203 198.5h1M198 188.5h1M211 189.5h1M186 193.5h1M211 203.5h1M195 198.5h1M199 186.5h1M197 198.5h1M206 190.5h1M186 188.5h1M201 197.5h1M200 197.5h1M197 189.5h1M202 199.5h1M202 203.5h1M192 184.5h1M188 208.5h1M194 199.5h1M199 201.5h1M218 194.5h1M198 193.5h1M200 199.5h1M193 204.5h1M206 199.5h1M198 195.5h1M189 200.5h1M193 194.5h1M205 191.5h1M196 201.5h1M210 193.5h1M206 193.5h1M201 199.5h1M192 202.5h1M210 197.5h1M201 190.5h1M210 197.5h1M140 181.5h1M137 167.5h1M128 187.5h1M188 167.5h1M148 168.5h1M150 179.5h1M178 163.5h1M164 155.5h1M179 173.5h1M148 189.5h1M156 187.5h1M173 190.5h1M146 174.5h1M163 172.5h1M179 166.5h1M172 187.5h1M130 164.5h1M145 168.5h1M163 172.5h1M159 169.5h1M156 178.5h1M168 166.5h1M156 166.5h1M155 159.5h1M171 180.5h1M156 167.5h1M151 167.5h1M136 190.5h1M204 161.5h1M141 179.5h1M166 158.5h1M131 179.5h1M130 188.5h1M151 174.5h1M157 168.5h1M156 171.5h1M175 173.5h1M157 168.5h1M149 166.5h1M158 192.5h1M173 176.5h1M181 184.5h1M160 172.5h1M142 176.5h1M153 158.5h1M140 193.5h1M161 178.5h1M160 169.5h1M164 184.5h1M153 179.5h1M172 169.5h1M160 166.5h1M166 170.5h1M174 166.5h1M181 170.5h1M146 164.5h1M167 165.5h1M183 186.5h1M165 159.5h1M157 166.5h1M132 178.5h1M188 168.5h1M169 186.5h1M144 170.5h1M161 178.5h1M141 176.5h1M156 183.5h1M135 168.5h1M150 170.5h1M168 167.5h1M196 166.5h1M169 184.5h1M171 171.5h1M146 171.5h1M167 175.5h1M166 179.5h1M145 164.5h1M178 169.5h1M135 192.5h1M146 164.5h1M171 162.5h1M145 184.5h1M146 199.5h1M159 200.5h1M159 174.5h1M149 171.5h1M150 173.5h1M168 161.5h1M145 153.5h1M179 173.5h1M157 173.5h1M172 177.5h1M169 172.5h1M156 173.5h1M131 184.5h1M135 164.5h1M167 174.5h1M169 191.5h1M184 187.5h1M154 194.5h1M145 173.5h1M171 171.5h1M156 170.5h1M177 149.5h1M175 184.5h1M156 179.5h1M144 185.5h1M200 164.5h1M177 173.5h1M153 169.5h1M155 161.5h1M138 190.5h1M157 179.5h1M162 178.5h1M136 164.5h1M166 183.5h1M141 168.5h1M143 180.5h1M162 174.5h1M148 177.5h1M158 166.5h1M162 167.5h1M171 180.5h1M148 179.5h1M158 166.5h1M145 157.5h1M142 177.5h1M174 167.5h1M160 177.5h1M168 178.5h1M175 181.5h1M147 177.5h1M125 172.5h1M158 179.5h1M153 182.5h1M176 165.5h1M150 176.5h1M164 175.5h1M169 162.5h1M168 185.5h1M173 178.5h1M154 177.5h1M156 158.5h1M149 173.5h1M150 164.5h1M154 170.5h1M158 173.5h1M160 183.5h1M159 178.5h1M140 144.5h1M152 180.5h1M153 167.5h1M140 182.5h1M150 176.5h1M173 179.5h1M189 172.5h1M171 180.5h1M148 174.5h1M150 163.5h1M162 166.5h1M181 166.5h1M150 174.5h1M150 174.5h1M149 159.5h1M124 161.5h1M179 178.5h1M160 169.5h1M155 176.5h1M138 166.5h1M145 186.5h1M143 185.5h1M151 201.5h1M156 174.5h1M176 182.5h1M171 163.5h1M173 190.5h1M156 169.5h1M142 184.5h1M162 174.5h1M140 190.5h1M170 173.5h1M178 164.5h1M170 164.5h1M177 171.5h1M175 169.5h1M163 185.5h1M145 174.5h1M146 182.5h1M149 170.5h1M155 185.5h1M143 173.5h1M153 168.5h1M146 172.5h1M160 158.5h1M161 162.5h1M158 196.5h1M144 173.5h1M154 183.5h1M151 156.5h1M135 175.5h1M161 184.5h1M150 180.5h1M143 186.5h1M157 167.5h1M160 191.5h1M146 161.5h1M143 162.5h1M157 177.5h1M155 175.5h1M174 171.5h1M140 151.5h1M161 167.5h1M154 178.5h1M164 158.5h1M144 174.5h1M155 185.5h1M150 153.5h1M174 157.5h1M144 177.5h1M143 198.5h1M161 179.5h1M151 196.5h1M165 166.5h1M175 157.5h1M149 176.5h1M159 164.5h1M180 188.5h1M144 177.5h1M149 169.5h1M171 175.5h1M156 175.5h1M141 186.5h1M147 187.5h1M151 169.5h1M178 175.5h1M149 168.5h1M166 192.5h1M166 170.5h1M142 167.5h1M156 176.5h1M148 186.5h1M144 166.5h1M164 178.5h1M152 183.5h1M138 190.5h1M188 193.5h1M159 193.5h1M158 187.5h1M155 175.5h1M165 156.5h1M155 191.5h1M117 177.5h1M170 177.5h1M160 187.5h1M162 155.5h1M144 171.5h1M160 169.5h1M156 190.5h1M116 185.5h1M171 180.5h1M158 174.5h1M163 176.5h1M147 181.5h1M146 173.5h1M152 162.5h1M166 173.5h1M141 173.5h1M138 188.5h1M165 193.5h1M150 181.5h1M144 165.5h1M156 178.5h1M170 171.5h1M173 183.5h1M145 172.5h1M145 191.5h1M150 182.5h1M170 171.5h1M151 177.5h1M147 161.5h1M144 177.5h1M160 191.5h1M132 179.5h1M141 185.5h1M167 175.5h1M178 170.5h1M150 163.5h1M148 175.5h1M167 186.5h1M154 166.5h1M153 169.5h1M151 169.5h1M145 173.5h1M150 172.5h1M138 175.5h1M165 180.5h1M150 162.5h1M139 162.5h1M149 170.5h1M133 180.5h1M136 167.5h1M147 182.5h1M183 170.5h1M154 170.5h1M155 172.5h1M192 163.5h1M156 166.5h1M162 168.5h1M165 163.5h1M187 176.5h1M133 180.5h1M151 162.5h1M164 168.5h1M168 168.5h1M170 175.5h1M162 175.5h1M152 170.5h1M164 181.5h1M152 196.5h1M181 162.5h1M173 173.5h1M161 166.5h1M180 165.5h1M156 166.5h1M184 186.5h1M139 169.5h1M163 169.5h1M153 163.5h1M161 163.5h1M169 197.5h1M153 190.5h1M163 167.5h1M153 164.5h1M159 180.5h1M170 171.5h1M141 173.5h1M181 176.5h1M157 153.5h1M152 179.5h1M144 187.5h1M150 165.5h1M149 173.5h1M171 168.5h1M133 173.5h1M165 189.5h1M142 188.5h1M167 178.5h1M147 165.5h1M144 183.5h1M161 184.5h1M183 174.5h1M157 192.5h1M140 169.5h1M152 170.5h1M159 165.5h1M174 160.5h1M146 157.5h1M138 179.5h1M166 172.5h1M169 180.5h1M150 173.5h1M163 193.5h1M151 177.5h1M165 185.5h1M163 184.5h1M143 171.5h1M131 173.5h1M190 176.5h1M159 176.5h1M160 161.5h1M148 172.5h1M160 165.5h1M156 166.5h1M139 167.5h1M146 182.5h1M176 179.5h1M155 168.5h1M136 168.5h1M179 185.5h1M161 171.5h1M158 178.5h1M157 178.5h1M147 174.5h1M153 184.5h1M140 186.5h1M156 169.5h1M158 175.5h1M154 178.5h1M150 157.5h1M167 173.5h1M180 177.5h1M130 186.5h1M148 179.5h1M188 184.5h1M142 173.5h1M135 180.5h1M165 164.5h1M164 183.5h1M169 167.5h1M148 163.5h1M122 182.5h1M134 187.5h1M136 179.5h1M121 188.5h1M135 180.5h1M125 175.5h1M139 176.5h1M139 184.5h1M130 173.5h1M137 187.5h1M126 174.5h1M143 181.5h1M128 187.5h1M131 183.5h1M130 177.5h1M135 176.5h1M118 178.5h1M144 186.5h1M153 185.5h1M148 182.5h1M130 183.5h1M125 184.5h1M130 182.5h1M126 180.5h1M142 179.5h1M128 182.5h1M141 180.5h1M123 173.5h1M122 186.5h1M133 183.5h1M143 182.5h1M138 178.5h1M119 184.5h1M133 183.5h1M124 180.5h1M151 176.5h1M134 187.5h1M131 181.5h1M115 184.5h1M130 187.5h1M133 179.5h1M137 179.5h1M129 188.5h1M142 181.5h1M141 185.5h1M139 181.5h1M134 183.5h1M138 182.5h1M129 180.5h1M138 176.5h1M133 184.5h1M135 179.5h1M133 178.5h1M142 179.5h1M119 175.5h1M136 182.5h1M129 174.5h1M132 177.5h1M128 181.5h1M127 182.5h1M127 178.5h1M131 188.5h1M147 185.5h1M127 181.5h1M142 184.5h1M119 180.5h1M127 184.5h1M139 178.5h1M152 179.5h1M155 180.5h1M133 190.5h1M129 178.5h1M146 180.5h1M138 175.5h1M149 185.5h1M137 184.5h1M129 178.5h1M120 182.5h1M144 185.5h1M142 184.5h1M125 174.5h1M139 181.5h1M142 179.5h1M126 183.5h1M129 173.5h1M128 176.5h1M124 178.5h1M142 192.5h1M149 179.5h1M144 180.5h1M137 177.5h1M133 173.5h1M149 177.5h1M139 178.5h1M136 175.5h1M130 185.5h1M139 171.5h1M141 174.5h1M136 183.5h1M128 179.5h1M131 182.5h1M142 187.5h1M136 190.5h1M125 189.5h1M131 184.5h1M132 181.5h1M125 182.5h1M151 181.5h1M133 181.5h1M140 180.5h1M133 182.5h1M145 185.5h1M124 178.5h1M134 185.5h1M142 180.5h1M152 180.5h1M146 187.5h1M148 182.5h1M139 173.5h1M118 178.5h1M140 186.5h1M133 186.5h1M139 188.5h1M119 177.5h1M125 176.5h1M148 176.5h1M126 179.5h1M141 178.5h1M140 183.5h1M128 169.5h1M125 175.5h1M148 177.5h1M124 182.5h1M134 176.5h1M143 185.5h1M136 177.5h1M126 171.5h1M137 182.5h1M125 181.5h1M162 175.5h1M118 183.5h1M130 178.5h1M139 180.5h1M142 183.5h1M144 181.5h1M114 187.5h1M118 186.5h1M136 174.5h1M134 185.5h1M124 181.5h1M147 168.5h1M150 199.5h1M181 181.5h1M163 183.5h1M171 184.5h1M124 194.5h1M144 147.5h1M181 166.5h1M161 180.5h1M151 189.5h1M158 178.5h1M142 178.5h1M140 182.5h1M196 195.5h1M175 164.5h1M189 194.5h1M213 152.5h1M165 177.5h1M190 167.5h1M156 213.5h1M188 155.5h1M165 200.5h1M150 190.5h1M167 162.5h1M150 197.5h1M192 174.5h1M191 172.5h1M170 181.5h1M135 186.5h1M155 145.5h1M145 170.5h1M145 169.5h1M148 149.5h1M186 183.5h1M171 178.5h1M166 178.5h1M139 161.5h1M166 195.5h1M170 203.5h1M132 178.5h1M150 198.5h1M205 175.5h1M182 178.5h1M141 180.5h1M140 202.5h1M178 197.5h1M173 149.5h1M183 183.5h1M188 204.5h1M239 105.5h1M232 113.5h1M233 113.5h1M235 114.5h1" stroke="#000" stroke-width="1" fill="none" opacity="0.75"/>
<path d="M317 156.5h1M328 149.5h1M323 154.5h1M330 155.5h1M322 141.5h1M336 160.5h1M321 150.5h1M332 138.5h1M329 168.5h1M328 145.5h1M342 151.5h1M327 147.5h1M327 138.5h1M315 140.5h1M333 150.5h1M335 136.5h1M321 161.5h1M319 137.5h1M320 148.5h1M325 160.5h1M336 162.5h1M330 147.5h1M322 140.5h1M336 160.5h1M326 144.5h1M331 154.5h1M327 142.5h1M327 146.5h1M331 155.5h1M329 147.5h1M337 156.5h1M335 157.5h1M331 153.5h1M317 137.5h1M318 155.5h1M333 152.5h1M326 164.5h1M322 138.5h1M313 148.5h1M331 156.5h1M324 156.5h1M325 145.5h1M323 156.5h1M333 142.5h1M318 151.5h1M342 142.5h1M316 154.5h1M329 146.5h1M325 154.5h1M312 150.5h1M330 157.5h1M335 150.5h1M314 160.5h1M332 146.5h1M334 158.5h1M324 134.5h1M322 145.5h1M319 150.5h1M317 153.5h1M340 142.5h1M334 147.5h1M330 150.5h1M336 145.5h1M331 145.5h1M327 150.5h1M334 139.5h1M315 161.5h1M329 163.5h1M317 152.5h1M330 163.5h1M325 147.5h1M331 150.5h1M320 156.5h1M311 143.5h1M336 147.5h1M323 153.5h1M334 154.5h1M318 146.5h1M334 150.5h1M321 157.5h1M334 166.5h1M317 145.5h1M320 153.5h1M322 159.5h1M304 157.5h1M320 149.5h1M330 152.5h1M318 161.5h1M330 147.5h1M327 143.5h1M316 148.5h1M328 151.5h1M319 141.5h1M312 162.5h1M328 145.5h1M335 154.5h1M322 146.5h1M334 153.5h1M338 153.5h1M321 146.5h1M320 152.5h1M327 155.5h1M329 143.5h1M324 144.5h1M329 141.5h1M321 144.5h1M321 149.5h1M337 149.5h1M314 148.5h1M331 154.5h1M327 165.5h1M334 151.5h1M335 141.5h1M324 144.5h1M327 162.5h1M322 162.5h1M318 161.5h1M312 144.5h1M333 150.5h1M327 150.5h1M327 149.5h1M318 148.5h1M326 144.5h1M329 163.5h1M313 147.5h1M323 151.5h1M326 145.5h1M325 151.5h1M325 162.5h1M327 140.5h1M313 155.5h1M323 146.5h1M315 148.5h1M325 146.5h1M323 157.5h1M332 154.5h1M324 141.5h1M332 161.5h1M335 159.5h1M328 153.5h1M325 160.5h1M323 166.5h1M332 148.5h1M325 139.5h1M320 148.5h1M345 145.5h1M333 151.5h1M323 155.5h1M310 157.5h1M341 153.5h1M325 152.5h1M331 147.5h1M326 154.5h1M323 153.5h1M328 156.5h1M318 147.5h1M322 159.5h1M327 139.5h1M316 164.5h1M328 141.5h1M318 152.5h1M337 162.5h1M323 148.5h1M340 143.5h1M338 153.5h1M326 160.5h1M329 144.5h1M314 151.5h1M329 160.5h1M305 160.5h1M330 161.5h1M332 152.5h1M329 153.5h1M321 150.5h1M326 147.5h1M314 140.5h1M329 154.5h1M326 142.5h1M332 148.5h1M309 162.5h1M314 167.5h1M330 147.5h1M307 145.5h1M337 160.5h1M328 138.5h1M323 148.5h1M329 150.5h1M328 139.5h1M321 161.5h1M314 157.5h1M343 155.5h1M315 159.5h1M311 153.5h1M322 159.5h1M335 152.5h1M339 158.5h1M322 143.5h1M345 148.5h1M329 150.5h1M322 139.5h1M324 150.5h1M333 147.5h1M313 143.5h1M325 152.5h1M331 148.5h1M330 152.5h1M339 150.5h1M327 155.5h1M335 144.5h1M322 149.5h1M309 160.5h1M334 151.5h1M352 160.5h1M341 162.5h1M333 140.5h1M337 154.5h1M316 151.5h1M331 158.5h1M327 147.5h1M331 145.5h1M325 156.5h1M314 153.5h1M310 144.5h1M316 150.5h1M331 150.5h1M333 151.5h1M324 154.5h1M324 151.5h1M334 146.5h1M334 142.5h1M324 138.5h1M321 162.5h1M328 160.5h1M314 143.5h1M329 156.5h1M332 138.5h1M329 150.5h1M326 154.5h1M323 138.5h1M317 140.5h1M315 150.5h1M336 145.5h1M320 142.5h1M312 151.5h1M322 149.5h1M318 154.5h1M316 154.5h1M320 156.5h1M319 154.5h1M329 150.5h1M338 152.5h1M319 156.5h1M319 147.5h1M326 152.5h1M339 138.5h1M323 159.5h1M324 153.5h1M337 142.5h1M326 156.5h1M321 138.5h1M318 152.5h1M327 164.5h1M336 139.5h1M334 157.5h1M338 149.5h1M321 152.5h1M338 155.5h1M339 156.5h1M321 143.5h1M340 140.5h1M323 148.5h1M318 146.5h1M326 168.5h1M325 147.5h1M326 157.5h1M319 148.5h1M312 156.5h1M331 161.5h1M316 166.5h1M332 149.5h1M322 148.5h1M316 156.5h1M321 145.5h1M330 151.5h1M321 149.5h1M322 160.5h1M333 145.5h1M325 160.5h1M323 163.5h1M329 155.5h1M309 157.5h1M328 155.5h1M329 154.5h1M322 157.5h1M326 143.5h1M318 152.5h1M328 134.5h1M309 158.5h1M325 171.5h1M314 149.5h1M321 155.5h1M336 162.5h1M318 159.5h1M316 153.5h1M327 155.5h1M319 160.5h1M325 150.5h1M323 143.5h1M331 153.5h1M329 164.5h1M319 148.5h1M326 157.5h1M324 157.5h1M329 138.5h1M320 136.5h1M323 147.5h1M330 152.5h1M325 160.5h1M330 142.5h1M320 153.5h1M339 149.5h1M324 152.5h1M332 150.5h1M328 147.5h1M321 145.5h1M331 146.5h1M330 153.5h1M333 131.5h1M318 142.5h1M324 156.5h1M345 162.5h1M336 153.5h1M322 154.5h1M308 157.5h1M326 155.5h1M317 143.5h1M320 150.5h1M328 148.5h1M328 155.5h1M316 150.5h1M313 147.5h1M333 145.5h1M340 154.5h1M332 151.5h1M332 158.5h1M326 147.5h1M321 165.5h1M324 147.5h1M320 138.5h1M322 153.5h1M322 145.5h1M329 154.5h1M322 153.5h1M318 157.5h1M318 148.5h1M327 147.5h1M317 166.5h1M337 138.5h1M326 141.5h1M328 141.5h1M330 154.5h1M339 159.5h1M322 157.5h1M322 150.5h1M322 138.5h1M330 136.5h1M324 154.5h1M326 139.5h1M320 155.5h1M334 162.5h1M311 154.5h1M322 156.5h1M312 149.5h1M331 146.5h1M323 143.5h1M334 141.5h1M318 148.5h1M323 166.5h1M328 144.5h1M330 153.5h1M328 150.5h1M329 142.5h1M316 147.5h1M317 156.5h1M341 160.5h1M329 153.5h1M320 141.5h1M330 140.5h1M328 149.5h1M331 151.5h1M326 146.5h1M312 148.5h1M331 158.5h1M336 143.5h1M318 156.5h1M322 169.5h1M328 139.5h1M321 162.5h1M311 152.5h1M315 162.5h1M322 143.5h1M312 145.5h1M306 147.5h1M343 151.5h1M323 142.5h1M328 147.5h1M319 161.5h1M329 144.5h1M337 150.5h1M329 152.5h1M335 155.5h1M323 156.5h1M322 151.5h1M338 143.5h1M317 148.5h1M322 160.5h1M313 167.5h1M338 147.5h1M327 148.5h1M331 155.5h1M331 156.5h1M341 149.5h1M331 149.5h1M326 152.5h1M325 153.5h1M319 149.5h1M321 142.5h1M320 147.5h1M324 139.5h1M323 142.5h1M319 152.5h1M334 153.5h1M322 147.5h1M336 139.5h1M334 140.5h1M321 151.5h1M324 163.5h1M329 150.5h1M333 151.5h1M319 159.5h1M337 160.5h1M316 164.5h1M322 156.5h1M335 168.5h1M313 143.5h1M335 154.5h1M323 129.5h1M329 149.5h1M305 170.5h1M306 146.5h1M325 152.5h1M331 149.5h1M318 148.5h1M309 142.5h1M341 145.5h1M325 164.5h1M334 151.5h1M331 149.5h1M318 158.5h1M327 162.5h1M323 148.5h1M328 149.5h1M323 144.5h1M327 153.5h1M340 150.5h1M312 154.5h1M343 147.5h1M319 149.5h1M303 148.5h1M324 139.5h1M330 144.5h1M311 145.5h1M330 165.5h1M335 152.5h1M321 149.5h1M333 147.5h1M329 158.5h1M318 146.5h1M329 151.5h1M325 147.5h1M325 164.5h1M336 139.5h1M326 151.5h1M326 140.5h1M324 152.5h1M320 153.5h1M306 139.5h1M326 153.5h1M324 147.5h1M327 158.5h1M333 150.5h1M322 158.5h1M330 157.5h1M323 144.5h1M327 146.5h1M335 157.5h1M308 155.5h1M336 158.5h1M322 144.5h1M333 158.5h1M326 142.5h1M314 152.5h1M319 146.5h1M329 158.5h1M309 146.5h1M336 150.5h1M323 155.5h1M317 142.5h1M326 162.5h1M333 150.5h1M333 147.5h1M316 138.5h1M328 157.5h1M328 150.5h1M322 159.5h1M325 140.5h1M336 146.5h1M329 151.5h1M334 152.5h1M335 152.5h1M322 147.5h1M331 144.5h1M333 149.5h1M318 144.5h1M324 164.5h1M332 151.5h1M318 165.5h1M323 150.5h1M322 160.5h1M327 147.5h1M327 143.5h1M317 149.5h1M303 159.5h1M341 142.5h1M324 139.5h1M327 152.5h1M331 141.5h1M321 146.5h1M324 167.5h1M324 150.5h1M322 156.5h1M346 159.5h1M338 143.5h1M334 151.5h1M335 158.5h1M331 138.5h1M327 147.5h1M329 151.5h1M334 139.5h1M320 150.5h1M328 148.5h1M325 151.5h1M334 150.5h1M327 137.5h1M305 140.5h1M328 134.5h1M329 150.5h1M326 145.5h1M322 157.5h1M328 150.5h1M322 152.5h1M335 150.5h1M323 142.5h1M326 144.5h1M314 157.5h1M321 136.5h1M320 164.5h1M325 141.5h1M317 156.5h1M329 152.5h1M324 154.5h1M338 154.5h1M324 140.5h1M329 162.5h1M331 141.5h1M327 160.5h1M321 154.5h1M335 163.5h1M313 138.5h1M328 156.5h1M323 150.5h1M322 159.5h1M308 152.5h1M315 146.5h1M313 144.5h1M325 151.5h1M340 149.5h1M328 153.5h1M328 161.5h1M327 152.5h1M325 151.5h1M325 158.5h1M326 151.5h1M325 156.5h1M322 157.5h1M321 156.5h1M341 152.5h1M325 142.5h1M331 151.5h1M333 146.5h1M330 164.5h1M329 148.5h1M315 150.5h1M331 155.5h1M317 143.5h1M318 143.5h1M323 152.5h1M341 152.5h1M337 138.5h1M338 156.5h1M329 157.5h1M330 165.5h1M332 138.5h1M312 162.5h1M325 160.5h1M323 146.5h1M323 153.5h1M327 146.5h1M330 155.5h1M318 142.5h1M310 148.5h1M326 145.5h1M321 150.5h1M326 155.5h1M332 154.5h1M334 143.5h1M330 153.5h1M317 145.5h1M329 151.5h1M316 146.5h1M338 157.5h1M326 160.5h1M318 149.5h1M333 148.5h1M317 155.5h1M338 132.5h1M327 141.5h1M323 140.5h1M346 145.5h1M326 145.5h1M318 147.5h1M327 163.5h1M328 162.5h1M317 151.5h1M322 139.5h1M355 149.5h1M327 145.5h1M321 143.5h1M334 148.5h1M324 152.5h1M313 195.5h1M320 196.5h1M318 194.5h1M325 198.5h1M316 198.5h1M314 193.5h1M322 194.5h1M304 189.5h1M320 198.5h1M316 201.5h1M309 194.5h1M325 194.5h1M323 198.5h1M315 196.5h1M328 192.5h1M305 188.5h1M315 188.5h1M324 190.5h1M338 196.5h1M312 192.5h1M332 197.5h1M314 199.5h1M318 204.5h1M317 196.5h1M325 191.5h1M320 199.5h1M324 193.5h1M324 202.5h1M327 196.5h1M323 186.5h1M322 191.5h1M326 191.5h1M324 188.5h1M327 190.5h1M321 196.5h1M319 194.5h1M328 202.5h1M309 189.5h1M326 198.5h1M318 194.5h1M320 205.5h1M320 188.5h1M310 187.5h1M330 192.5h1M334 197.5h1M324 197.5h1M326 198.5h1M314 191.5h1M317 194.5h1M319 187.5h1M316 202.5h1M336 189.5h1M324 193.5h1M315 197.5h1M321 202.5h1M324 192.5h1M303 193.5h1M327 190.5h1M327 197.5h1M309 193.5h1M323 197.5h1M322 193.5h1M319 192.5h1M321 188.5h1M325 192.5h1M325 191.5h1M324 194.5h1M327 196.5h1M327 193.5h1M321 192.5h1M312 193.5h1M329 197.5h1M315 195.5h1M326 187.5h1M323 195.5h1M326 195.5h1M309 184.5h1M335 192.5h1M330 200.5h1M322 188.5h1M330 193.5h1M325 196.5h1M328 198.5h1M311 187.5h1M322 194.5h1M326 193.5h1M320 203.5h1M331 199.5h1M328 190.5h1M320 193.5h1M313 189.5h1M322 188.5h1M325 196.5h1M319 192.5h1M325 196.5h1M324 187.5h1M310 204.5h1M316 192.5h1M308 190.5h1M316 197.5h1M303 187.5h1M318 191.5h1M316 191.5h1M310 195.5h1M329 194.5h1M317 200.5h1M324 188.5h1M317 190.5h1M321 199.5h1M316 193.5h1M322 188.5h1M318 197.5h1M329 184.5h1M326 192.5h1M330 197.5h1M335 195.5h1M318 189.5h1M311 196.5h1M325 198.5h1M323 186.5h1M318 192.5h1M322 197.5h1M331 195.5h1M307 188.5h1M306 190.5h1M313 195.5h1M319 199.5h1M328 191.5h1M328 194.5h1M324 200.5h1M313 193.5h1M332 190.5h1M322 194.5h1M318 187.5h1M316 189.5h1M328 195.5h1M326 188.5h1M324 194.5h1M328 190.5h1M327 200.5h1M333 189.5h1M313 186.5h1M328 196.5h1M323 189.5h1M330 201.5h1M321 193.5h1M329 196.5h1M330 192.5h1M323 192.5h1M317 192.5h1M319 196.5h1M319 194.5h1M315 187.5h1M331 189.5h1M334 198.5h1M305 190.5h1M318 194.5h1M320 191.5h1M330 193.5h1M328 190.5h1M316 200.5h1M319 188.5h1M320 199.5h1M320 190.5h1M325 198.5h1M320 192.5h1M318 207.5h1M320 202.5h1M320 195.5h1M307 194.5h1M321 192.5h1M318 187.5h1M311 194.5h1M317 193.5h1M320 191.5h1M316 203.5h1M313 191.5h1M319 188.5h1M314 198.5h1M327 194.5h1M343 198.5h1M330 190.5h1M329 202.5h1M318 202.5h1M315 188.5h1M321 190.5h1M325 188.5h1M322 184.5h1M321 199.5h1M319 195.5h1M329 188.5h1M312 194.5h1M323 192.5h1M314 199.5h1M313 192.5h1M321 197.5h1M318 189.5h1M335 189.5h1M327 193.5h1M318 193.5h1M319 195.5h1M303 193.5h1M322 189.5h1M318 205.5h1M334 197.5h1M323 192.5h1M331 191.5h1M315 197.5h1M314 190.5h1M331 186.5h1M321 194.5h1M323 186.5h1M319 192.5h1M334 198.5h1M316 198.5h1M326 193.5h1M319 192.5h1M310 190.5h1M327 201.5h1M334 192.5h1M325 182.5h1M319 187.5h1M327 185.5h1M314 188.5h1M324 198.5h1M315 202.5h1M322 189.5h1M323 193.5h1M327 195.5h1M336 199.5h1M317 197.5h1M326 189.5h1M316 190.5h1M304 197.5h1M320 200.5h1M317 194.5h1M326 198.5h1M323 188.5h1M336 198.5h1M330 201.5h1M331 196.5h1M324 197.5h1M311 197.5h1M314 196.5h1M314 197.5h1M318 206.5h1M322 196.5h1M315 192.5h1M321 192.5h1M318 189.5h1M326 192.5h1M315 195.5h1M315 193.5h1M318 189.5h1M319 189.5h1M312 195.5h1M319 186.5h1M318 194.5h1M324 195.5h1M323 196.5h1M318 190.5h1M325 192.5h1M321 197.5h1M328 199.5h1M316 192.5h1M325 187.5h1M312 196.5h1M317 189.5h1M327 196.5h1M327 192.5h1M319 192.5h1M323 184.5h1M316 197.5h1M316 193.5h1M322 196.5h1M318 188.5h1M338 190.5h1M333 185.5h1M322 193.5h1M334 203.5h1M328 189.5h1M316 190.5h1M318 195.5h1M316 192.5h1M331 201.5h1M308 189.5h1M318 200.5h1M319 203.5h1M324 200.5h1M315 192.5h1M328 196.5h1M308 192.5h1M322 197.5h1M317 202.5h1M322 201.5h1M324 194.5h1M319 188.5h1M327 197.5h1M327 192.5h1M314 192.5h1M319 193.5h1M328 189.5h1M318 197.5h1M327 204.5h1M325 189.5h1M314 190.5h1M322 195.5h1M321 191.5h1M320 193.5h1M325 194.5h1M316 188.5h1M331 193.5h1M320 193.5h1M329 192.5h1M322 192.5h1M325 189.5h1M322 198.5h1M329 196.5h1M323 201.5h1M326 200.5h1M313 188.5h1M327 192.5h1M318 189.5h1M331 188.5h1M322 187.5h1M320 204.5h1M338 191.5h1M314 201.5h1M315 185.5h1M323 188.5h1M311 199.5h1M316 188.5h1M322 193.5h1M329 194.5h1M332 199.5h1M333 199.5h1M322 196.5h1M321 186.5h1M313 197.5h1M305 190.5h1M312 193.5h1M314 195.5h1M320 191.5h1M315 183.5h1M322 187.5h1M319 195.5h1M328 197.5h1M331 187.5h1M326 201.5h1M324 188.5h1M324 191.5h1M317 199.5h1M320 188.5h1M316 203.5h1M315 197.5h1M322 199.5h1M319 189.5h1M317 189.5h1M339 194.5h1M319 200.5h1M326 193.5h1M325 195.5h1M329 202.5h1M319 193.5h1M320 199.5h1M324 197.5h1M327 190.5h1M322 200.5h1M327 197.5h1M319 192.5h1M315 192.5h1M321 187.5h1M329 190.5h1M323 196.5h1M317 185.5h1M328 195.5h1M319 199.5h1M327 189.5h1M321 185.5h1M319 200.5h1M315 198.5h1M311 192.5h1M328 202.5h1M324 197.5h1M333 182.5h1M309 203.5h1M338 196.5h1M322 195.5h1M321 191.5h1M321 193.5h1M326 197.5h1M328 196.5h1M314 200.5h1M303 194.5h1M323 191.5h1M334 188.5h1M313 191.5h1M324 197.5h1M322 197.5h1M316 191.5h1M322 187.5h1M322 192.5h1M326 189.5h1M318 191.5h1M319 189.5h1M319 187.5h1M325 197.5h1M321 193.5h1M315 189.5h1M320 189.5h1M313 194.5h1M321 192.5h1M316 193.5h1M316 191.5h1M322 197.5h1M326 191.5h1M329 188.5h1M320 200.5h1M337 194.5h1M319 192.5h1M313 193.5h1M318 190.5h1M329 190.5h1M333 198.5h1M325 191.5h1M318 184.5h1M323 192.5h1M324 190.5h1M324 186.5h1M306 196.5h1M328 178.5h1M330 192.5h1M320 186.5h1M314 197.5h1M316 193.5h1M320 203.5h1M327 187.5h1M318 188.5h1M312 190.5h1M329 194.5h1M326 193.5h1M318 194.5h1M321 203.5h1M333 195.5h1M325 184.5h1M320 205.5h1M316 197.5h1M329 192.5h1M320 191.5h1M326 194.5h1M331 199.5h1M321 206.5h1M319 191.5h1M320 189.5h1M318 193.5h1M327 186.5h1M312 190.5h1M319 196.5h1M316 201.5h1M318 192.5h1M321 199.5h1M323 194.5h1M317 194.5h1M324 192.5h1M321 185.5h1M318 199.5h1M331 193.5h1M306 202.5h1M320 206.5h1M318 198.5h1M317 200.5h1M329 188.5h1M330 207.5h1M320 188.5h1M323 192.5h1M311 188.5h1M323 186.5h1M328 196.5h1M320 200.5h1M315 197.5h1M312 192.5h1M325 191.5h1M320 197.5h1M331 200.5h1M324 192.5h1M311 202.5h1M334 183.5h1M327 193.5h1M326 195.5h1M320 193.5h1M321 199.5h1M319 191.5h1M325 197.5h1M324 195.5h1M331 199.5h1M323 192.5h1M326 184.5h1M318 190.5h1M322 192.5h1M338 197.5h1M324 204.5h1M321 192.5h1M329 198.5h1M327 199.5h1M319 190.5h1M316 194.5h1M328 188.5h1M317 187.5h1M335 197.5h1M323 188.5h1M314 190.5h1M321 187.5h1M320 199.5h1M321 194.5h1M307 192.5h1M320 190.5h1M312 193.5h1M314 191.5h1M310 193.5h1M327 189.5h1M323 186.5h1M325 196.5h1M318 198.5h1M315 194.5h1M332 193.5h1M314 199.5h1M325 192.5h1M309 184.5h1M311 201.5h1M323 189.5h1M329 201.5h1M315 196.5h1M310 195.5h1M333 187.5h1M321 190.5h1M320 194.5h1M323 198.5h1M325 199.5h1M328 199.5h1M317 195.5h1M319 189.5h1M334 195.5h1M321 183.5h1M320 197.5h1M320 191.5h1M331 192.5h1M319 193.5h1M319 199.5h1M325 193.5h1M319 192.5h1M332 192.5h1M325 186.5h1M323 197.5h1M330 195.5h1M325 195.5h1M328 203.5h1M322 190.5h1M325 193.5h1M325 197.5h1M322 191.5h1M373 162.5h1M373 165.5h1M374 172.5h1M370 163.5h1M371 166.5h1M370 176.5h1M378 162.5h1M378 180.5h1M379 173.5h1M370 183.5h1M369 161.5h1M372 173.5h1M364 163.5h1M385 172.5h1M377 167.5h1M360 170.5h1M381 166.5h1M358 170.5h1M369 171.5h1M364 169.5h1M367 177.5h1M372 177.5h1M371 156.5h1M357 175.5h1M377 177.5h1M371 159.5h1M368 174.5h1M381 169.5h1M367 166.5h1M378 177.5h1M358 179.5h1M364 161.5h1M360 166.5h1M362 166.5h1M372 174.5h1M368 160.5h1M368 166.5h1M358 172.5h1M361 159.5h1M382 177.5h1M381 172.5h1M368 170.5h1M361 176.5h1M373 169.5h1M358 170.5h1M383 181.5h1M377 169.5h1M372 175.5h1M372 178.5h1M366 155.5h1M354 165.5h1M361 176.5h1M379 171.5h1M375 172.5h1M372 168.5h1M368 179.5h1M369 171.5h1M380 178.5h1M368 173.5h1M364 172.5h1M373 171.5h1M372 173.5h1M353 165.5h1M372 168.5h1M364 169.5h1M383 169.5h1M366 168.5h1M363 174.5h1M364 177.5h1M378 175.5h1M379 170.5h1M358 171.5h1M376 160.5h1M362 178.5h1M374 180.5h1M376 171.5h1M374 177.5h1M371 170.5h1M373 169.5h1M388 166.5h1M360 162.5h1M379 168.5h1M372 170.5h1M373 161.5h1M372 167.5h1M379 175.5h1M362 164.5h1M375 179.5h1M377 170.5h1M379 155.5h1M367 164.5h1M364 175.5h1M373 173.5h1M370 175.5h1M377 167.5h1M378 165.5h1M384 162.5h1M369 164.5h1M371 180.5h1M366 183.5h1M381 174.5h1M367 177.5h1M350 166.5h1M378 171.5h1M389 166.5h1M361 170.5h1M375 183.5h1M358 172.5h1M380 166.5h1M368 163.5h1M377 177.5h1M375 173.5h1M378 170.5h1M376 177.5h1M381 175.5h1M372 176.5h1M360 159.5h1M383 172.5h1M363 167.5h1M370 171.5h1M366 178.5h1M359 190.5h1M363 182.5h1M376 159.5h1M362 171.5h1M373 168.5h1M371 172.5h1M363 171.5h1M388 167.5h1M364 176.5h1M381 178.5h1M366 170.5h1M373 170.5h1M374 178.5h1M375 171.5h1M370 183.5h1M362 185.5h1M376 172.5h1M366 184.5h1M380 177.5h1M386 159.5h1M372 169.5h1M366 172.5h1M375 175.5h1M370 162.5h1M375 175.5h1M387 177.5h1M371 163.5h1M391 166.5h1M373 176.5h1M375 180.5h1M364 166.5h1M372 163.5h1M367 181.5h1M373 170.5h1M367 171.5h1M371 164.5h1M377 162.5h1M381 169.5h1M354 160.5h1M373 165.5h1M384 181.5h1M387 177.5h1M381 167.5h1M381 168.5h1M371 162.5h1M372 174.5h1M371 163.5h1M378 177.5h1M370 176.5h1M378 164.5h1M371 158.5h1M363 174.5h1M365 174.5h1M374 157.5h1M367 182.5h1M371 172.5h1M366 160.5h1M359 191.5h1M370 165.5h1M372 158.5h1M382 183.5h1M365 173.5h1M364 177.5h1M365 170.5h1M381 175.5h1M369 160.5h1M359 179.5h1M375 171.5h1M380 172.5h1M366 170.5h1M370 171.5h1M390 175.5h1M373 169.5h1M366 164.5h1M357 168.5h1M360 158.5h1M364 157.5h1M381 180.5h1M364 185.5h1M376 153.5h1M371 164.5h1M358 169.5h1M380 174.5h1M360 166.5h1M365 179.5h1M370 164.5h1M364 157.5h1M365 177.5h1M357 172.5h1M370 177.5h1M362 177.5h1M359 171.5h1M369 172.5h1M364 177.5h1M389 182.5h1M364 167.5h1M377 172.5h1M365 180.5h1M375 178.5h1M370 180.5h1M368 163.5h1M371 161.5h1M380 176.5h1M358 172.5h1M377 168.5h1M374 167.5h1M371 170.5h1M375 164.5h1M363 173.5h1M367 175.5h1M367 162.5h1M377 173.5h1M377 169.5h1M368 180.5h1M358 183.5h1M375 171.5h1M372 175.5h1M365 173.5h1M364 158.5h1M373 172.5h1M376 175.5h1M376 177.5h1M363 180.5h1M391 167.5h1M362 176.5h1M378 178.5h1M383 161.5h1M374 174.5h1M380 165.5h1M371 168.5h1M370 170.5h1M370 159.5h1M371 171.5h1M368 146.5h1M366 166.5h1M364 182.5h1M378 170.5h1M376 194.5h1M364 174.5h1M367 181.5h1M379 170.5h1M376 165.5h1M359 177.5h1M383 169.5h1M367 158.5h1M387 163.5h1M364 170.5h1M380 171.5h1M371 171.5h1M377 171.5h1M372 170.5h1M363 180.5h1M366 162.5h1M368 171.5h1M377 161.5h1M361 172.5h1M374 163.5h1M362 172.5h1M370 160.5h1M364 181.5h1M363 178.5h1M359 181.5h1M383 167.5h1M366 175.5h1M362 175.5h1M380 173.5h1M373 170.5h1M379 165.5h1M383 171.5h1M369 160.5h1M368 173.5h1M380 160.5h1M370 166.5h1M362 171.5h1M365 177.5h1M351 176.5h1M357 157.5h1M375 169.5h1M372 164.5h1M363 166.5h1M371 165.5h1M368 165.5h1M373 163.5h1M355 153.5h1M371 172.5h1M378 166.5h1M362 161.5h1M377 167.5h1M378 170.5h1M369 158.5h1M366 177.5h1M366 176.5h1M359 178.5h1M392 179.5h1M373 162.5h1M367 166.5h1M372 157.5h1M364 177.5h1M372 176.5h1M377 163.5h1M361 174.5h1M371 172.5h1M365 178.5h1M375 179.5h1M368 176.5h1M371 164.5h1M370 159.5h1M370 172.5h1M376 164.5h1M361 166.5h1M355 166.5h1M391 172.5h1M365 166.5h1M384 163.5h1M370 170.5h1M365 166.5h1M358 165.5h1M381 181.5h1M369 176.5h1M374 172.5h1M370 180.5h1M375 169.5h1M369 178.5h1M367 166.5h1M369 168.5h1M381 174.5h1M370 167.5h1M382 174.5h1M387 177.5h1M369 167.5h1M369 172.5h1M377 174.5h1M383 160.5h1M371 161.5h1M363 167.5h1M366 164.5h1M360 179.5h1M369 178.5h1M363 155.5h1M367 177.5h1M367 174.5h1M363 181.5h1M374 178.5h1M369 180.5h1M372 168.5h1M366 171.5h1M364 163.5h1M372 176.5h1M369 177.5h1M383 162.5h1M373 164.5h1M366 172.5h1M353 175.5h1M377 175.5h1M376 184.5h1M368 179.5h1M382 174.5h1M358 170.5h1M369 160.5h1M371 176.5h1M369 170.5h1M382 167.5h1M364 171.5h1M379 175.5h1M372 168.5h1M380 177.5h1M358 173.5h1M353 181.5h1M376 167.5h1M361 169.5h1M358 175.5h1M367 159.5h1M371 179.5h1M361 168.5h1M385 172.5h1M367 172.5h1M377 164.5h1M370 160.5h1M359 160.5h1M377 173.5h1M377 180.5h1M371 173.5h1M374 174.5h1M363 169.5h1M370 171.5h1M365 170.5h1M373 172.5h1M375 177.5h1M375 178.5h1M377 181.5h1M376 167.5h1M388 179.5h1M380 176.5h1M371 163.5h1M374 169.5h1M368 156.5h1M383 163.5h1M363 174.5h1M375 165.5h1M371 173.5h1M372 175.5h1M377 168.5h1M359 186.5h1M368 164.5h1M377 175.5h1M366 187.5h1M353 180.5h1M371 173.5h1M373 169.5h1M373 162.5h1M368 184.5h1M352 180.5h1M354 165.5h1M378 168.5h1M367 160.5h1M370 170.5h1M366 160.5h1M372 174.5h1M380 175.5h1M382 179.5h1M350 183.5h1M370 164.5h1M374 178.5h1M359 162.5h1M376 167.5h1M382 173.5h1M367 162.5h1M353 148.5h1M319 154.5h1M373 196.5h1M338 167.5h1M355 190.5h1M328 203.5h1M339 188.5h1M330 200.5h1M339 155.5h1M378 163.5h1M342 155.5h1M355 175.5h1M337 167.5h1M332 162.5h1M317 189.5h1M359 153.5h1M321 178.5h1M383 170.5h1M337 169.5h1M347 170.5h1M362 186.5h1M352 195.5h1M338 165.5h1M396 145.5h1M314 139.5h1M349 157.5h1M362 143.5h1M340 167.5h1M323 188.5h1M335 179.5h1M333 175.5h1M334 174.5h1M341 163.5h1M350 170.5h1M325 158.5h1M350 191.5h1M319 167.5h1M351 187.5h1M355 156.5h1M343 185.5h1M347 169.5h1M321 175.5h1M341 173.5h1M370 189.5h1M328 176.5h1M337 174.5h1M372 185.5h1M343 163.5h1M340 178.5h1M333 188.5h1M343 156.5h1M379 132.5h1M338 171.5h1M360 188.5h1M369 194.5h1M348 174.5h1M361 172.5h1M320 166.5h1M354 181.5h1M322 189.5h1M348 151.5h1M351 187.5h1M352 168.5h1M328 188.5h1M347 172.5h1M335 158.5h1M309 168.5h1M363 183.5h1M330 194.5h1M338 158.5h1M360 192.5h1M335 155.5h1M341 138.5h1M343 194.5h1M347 162.5h1M355 166.5h1M365 167.5h1M379 168.5h1M346 159.5h1M319 177.5h1M349 159.5h1M353 167.5h1M333 171.5h1M350 183.5h1M365 178.5h1M329 163.5h1M349 156.5h1M339 167.5h1M341 175.5h1M361 196.5h1M358 187.5h1M323 187.5h1M366 153.5h1M388 165.5h1M344 161.5h1M332 188.5h1M347 167.5h1M363 159.5h1M327 165.5h1M329 182.5h1M338 158.5h1M334 145.5h1M345 174.5h1M354 169.5h1M350 159.5h1M343 175.5h1M321 181.5h1M345 173.5h1M334 201.5h1M343 162.5h1M327 181.5h1M339 161.5h1M329 186.5h1M344 187.5h1M342 156.5h1M358 177.5h1M331 168.5h1M325 184.5h1M335 179.5h1M347 169.5h1M349 169.5h1M321 167.5h1M321 183.5h1M354 164.5h1M354 176.5h1M360 159.5h1M343 159.5h1M330 192.5h1M306 160.5h1M351 183.5h1M328 144.5h1M312 178.5h1M362 185.5h1M329 191.5h1M339 181.5h1M339 195.5h1M333 142.5h1M337 175.5h1M347 162.5h1M338 157.5h1M338 174.5h1M347 196.5h1M306 180.5h1M350 156.5h1M344 172.5h1M324 183.5h1M377 182.5h1M356 187.5h1M340 186.5h1M328 175.5h1M355 191.5h1M337 168.5h1M351 171.5h1M345 184.5h1M329 185.5h1M349 169.5h1M320 164.5h1M342 186.5h1M307 182.5h1M346 157.5h1M358 178.5h1M350 159.5h1M323 185.5h1M368 178.5h1M339 166.5h1M312 186.5h1M341 190.5h1M330 187.5h1M330 181.5h1M367 163.5h1M359 172.5h1M326 175.5h1M354 163.5h1M338 165.5h1M329 170.5h1M357 166.5h1M365 167.5h1M330 187.5h1M368 163.5h1M353 156.5h1M335 167.5h1M355 155.5h1M333 163.5h1M344 155.5h1M319 212.5h1M346 152.5h1M357 154.5h1M309 196.5h1M365 161.5h1M323 179.5h1M379 181.5h1M354 156.5h1M311 178.5h1M361 174.5h1M342 192.5h1M328 188.5h1M357 164.5h1M345 174.5h1M353 159.5h1M338 174.5h1M343 173.5h1M347 170.5h1M334 187.5h1M331 168.5h1M327 157.5h1M350 172.5h1M340 179.5h1M339 182.5h1M375 177.5h1M338 195.5h1M355 150.5h1M366 175.5h1M358 157.5h1M327 164.5h1M352 157.5h1M330 186.5h1M331 174.5h1M327 149.5h1M341 171.5h1M317 186.5h1M357 185.5h1M333 157.5h1M341 175.5h1M339 164.5h1M325 162.5h1M341 166.5h1M372 169.5h1M351 166.5h1M433 91.5h1M428 102.5h1M425 116.5h1M409 133.5h1M389 188.5h1M396 193.5h1M392 196.5h1M396 203.5h1" stroke="#000" stroke-width="1" fill="none" opacity="0.72"/>
<rect x="190" y="188.1" width="23.5" height="22.9" fill="none" stroke="#444" stroke-width="1.2"/>
<rect x="383.5" y="185.8" width="23.9" height="25.2" fill="none" stroke="#444" stroke-width="1.2"/>
<path d="M89.5 46.5V106.6M89.5 149.6V226.7M84 55.8L89.5 46.2L95 55.8" fill="none" stroke="#000" stroke-width="1.6"/>
<text transform="translate(94.8 129.3) rotate(-90)" font-size="15.8" text-anchor="middle">CD3</text>
<path d="M103 239.2H254.8M306.7 239.2H475M465.8 234L475.5 239.2L465.8 244.5" fill="none" stroke="#000" stroke-width="1.6"/>
<text x="282.3" y="243" font-size="15.7" text-anchor="middle">NK<tspan class="h1">1</tspan>.<tspan class="h1">1</tspan></text>
<text x="2" y="339.9" font-size="23.7" font-weight="bold" style="stroke:none">B</text>
<path d="M82.2 392.3V589.8M82.2 585.9H341.4M78.2 585.9H82.2M78.2 537.5H82.2M78.2 489.1H82.2M78.2 440.7H82.2M78.2 392.3H82.2M82.2 585.9V589.8M125.4 585.9V589.8M168.6 585.9V589.8M211.8 585.9V589.8M255 585.9V589.8M298.2 585.9V589.8M341.4 585.9V589.8" fill="none" stroke="#000" stroke-width="1.8"/>
<text class="tb" transform="translate(74.8 590.3) scale(0.8929 1)" font-size="15.9" text-anchor="end">0</text>
<text class="tb" transform="translate(74.8 541.9) scale(0.8929 1)" font-size="15.9" text-anchor="end">500</text>
<text class="tb" transform="translate(74.8 493.5) scale(0.8929 1)" font-size="15.9" text-anchor="end"><tspan class="h1">1</tspan>000</text>
<text class="tb" transform="translate(74.8 445.1) scale(0.8929 1)" font-size="15.9" text-anchor="end"><tspan class="h1">1</tspan>500</text>
<text class="tb" transform="translate(74.8 396.7) scale(0.8929 1)" font-size="15.9" text-anchor="end">2000</text>
<text class="tb" transform="translate(82.2 606.6) scale(0.8929 1)" font-size="15.9" text-anchor="middle">0</text>
<text class="tb" transform="translate(125.4 606.6) scale(0.8929 1)" font-size="15.9" text-anchor="middle"><tspan class="h1">1</tspan></text>
<text class="tb" transform="translate(168.6 606.6) scale(0.8929 1)" font-size="15.9" text-anchor="middle">2</text>
<text class="tb" transform="translate(211.8 606.6) scale(0.8929 1)" font-size="15.9" text-anchor="middle">3</text>
<text class="tb" transform="translate(255 606.6) scale(0.8929 1)" font-size="15.9" text-anchor="middle">4</text>
<text class="tb" transform="translate(298.2 606.6) scale(0.8929 1)" font-size="15.9" text-anchor="middle">5</text>
<text class="tb" transform="translate(341.4 606.6) scale(0.8929 1)" font-size="15.9" text-anchor="middle">6</text>
<text class="tb" transform="translate(228.3 628.6) scale(0.8929 1)" font-size="15.9" text-anchor="middle">Weeks after injection</text>
<text class="tb" transform="translate(33.9 487.9) rotate(-90) scale(0.9 1)" font-size="15.4" text-anchor="middle">HBsAg(ng/ml)</text>
<g fill="#000"><path d="M100.8 439.7V422.3M97.3 422.3H104.3" fill="none" stroke="#000" stroke-width="1.6"/><path d="M168.6 526.3V503.3M165.1 503.3H172.1" fill="none" stroke="#000" stroke-width="1.6"/><path d="M211.8 531.8V510.2M208.3 510.2H215.3" fill="none" stroke="#000" stroke-width="1.6"/><path d="M255 566V557.4M251.5 557.4H258.5" fill="none" stroke="#000" stroke-width="1.6"/><path d="M100.8 450.6V435.4M97.3 435.4H104.3" fill="none" stroke="#000" stroke-width="1.6"/><path d="M211.8 526.9V514.3M208.3 514.3H215.3" fill="none" stroke="#000" stroke-width="1.6"/><path d="M298.2 555.7V545.2M294.7 545.2H301.7" fill="none" stroke="#000" stroke-width="1.6"/><path d="M100.8 468.6V465.9M97.3 465.9H104.3" fill="none" stroke="#000" stroke-width="1.6"/><path d="M125.4 505.6V502.7M121.9 502.7H128.9" fill="none" stroke="#000" stroke-width="1.6"/><path d="M168.6 509.8V489.3M165.1 489.3H172.1" fill="none" stroke="#000" stroke-width="1.6"/><path d="M211.8 518.9V498.6M208.3 498.6H215.3" fill="none" stroke="#000" stroke-width="1.6"/><path d="M255 544.5V535.1M251.5 535.1H258.5" fill="none" stroke="#000" stroke-width="1.6"/><path d="M298.2 550.7V541.4M294.7 541.4H301.7" fill="none" stroke="#000" stroke-width="1.6"/><polyline points="88.2,547.4 100.8,439.7 125.4,494.4 168.6,526.3 211.8,531.8 255,566 298.2,567.2" fill="none" stroke="#000" stroke-width="1.7"/><polyline points="88.2,557.1 100.8,450.6 125.4,512.7 168.6,519.3 211.8,526.9 255,551.5 298.2,555.7" fill="none" stroke="#000" stroke-width="1.7"/><polyline points="88.2,552.7 100.8,468.6 125.4,505.6 168.6,509.8 211.8,518.9 255,544.5 298.2,550.7" fill="none" stroke="#000" stroke-width="1.7"/><polyline points="88.2,571.3 100.8,521 125.4,554.2 168.6,574.4 211.8,584.9 255,584.9 298.2,584.9" fill="none" stroke="#000" stroke-width="1.7"/><rect x="83.9" y="543.1" width="8.6" height="8.6"/><rect x="96.5" y="435.4" width="8.6" height="8.6"/><rect x="121.1" y="490.1" width="8.6" height="8.6"/><rect x="164.3" y="522" width="8.6" height="8.6"/><rect x="207.5" y="527.5" width="8.6" height="8.6"/><rect x="250.7" y="561.7" width="8.6" height="8.6"/><rect x="293.9" y="562.9" width="8.6" height="8.6"/><path d="M82.6 548.8L93.8 548.8L88.2 558.6Z"/><path d="M95.2 464.7L106.4 464.7L100.8 474.5Z"/><path d="M119.8 501.6L131 501.6L125.4 511.4Z"/><path d="M163 505.9L174.2 505.9L168.6 515.7Z"/><path d="M206.2 515L217.4 515L211.8 524.8Z"/><path d="M249.4 540.5L260.6 540.5L255 550.3Z"/><path d="M292.6 546.7L303.8 546.7L298.2 556.5Z"/><path d="M88.2 551.2L94 561L82.4 561Z"/><path d="M100.8 444.7L106.6 454.5L95 454.5Z"/><path d="M125.4 506.8L131.2 516.6L119.6 516.6Z"/><path d="M168.6 513.4L174.4 523.2L162.8 523.2Z"/><path d="M211.8 521L217.6 530.8L206 530.8Z"/><path d="M255 545.7L260.8 555.5L249.2 555.5Z"/><path d="M298.2 549.8L304 559.6L292.4 559.6Z"/><circle cx="88.2" cy="571.3" r="4.6"/><circle cx="100.8" cy="521" r="4.6"/><circle cx="125.4" cy="554.2" r="4.6"/><circle cx="168.6" cy="574.4" r="4.6"/><circle cx="211.8" cy="584.9" r="4.6"/><circle cx="255" cy="584.9" r="4.6"/><circle cx="298.2" cy="584.9" r="4.6"/></g>
<path d="M89.1 581.4L89.1 577.8M89.1 581.4L92.5 580.3M89.1 581.4L91.2 584.3M89.1 581.4L87 584.3M89.1 581.4L85.7 580.3" stroke="#000" stroke-width="1.7" fill="none"/>
<path d="M100.9 512.5L100.9 508.9M100.9 512.5L104.3 511.4M100.9 512.5L103 515.4M100.9 512.5L98.8 515.4M100.9 512.5L97.5 511.4" stroke="#000" stroke-width="1.7" fill="none"/>
<path d="M126.2 544.1L126.2 540.5M126.2 544.1L129.6 543M126.2 544.1L128.3 547M126.2 544.1L124.1 547M126.2 544.1L122.8 543" stroke="#000" stroke-width="1.7" fill="none"/>
<path d="M169.4 564.4L169.4 560.8M169.4 564.4L172.8 563.3M169.4 564.4L171.5 567.3M169.4 564.4L167.3 567.3M169.4 564.4L166 563.3" stroke="#000" stroke-width="1.7" fill="none"/>
<path d="M212.8 575.5L212.8 571.9M212.8 575.5L216.2 574.4M212.8 575.5L214.9 578.4M212.8 575.5L210.7 578.4M212.8 575.5L209.4 574.4" stroke="#000" stroke-width="1.7" fill="none"/>
<path d="M255.4 575.5L255.4 571.9M255.4 575.5L258.8 574.4M255.4 575.5L257.5 578.4M255.4 575.5L253.3 578.4M255.4 575.5L252 574.4" stroke="#000" stroke-width="1.7" fill="none"/>
<path d="M299 575.5L299 571.9M299 575.5L302.4 574.4M299 575.5L301.1 578.4M299 575.5L296.9 578.4M299 575.5L295.6 574.4" stroke="#000" stroke-width="1.7" fill="none"/>
<path d="M150.2 392.2H192.1" stroke="#000" stroke-width="1.7"/>
<rect x="167.2" y="387.9" width="8.6" height="8.6"/>
<text class="tb" transform="translate(195.7 398.5) scale(0.8929 1)" font-size="15.8" textLength="68.3" lengthAdjust="spacing">PBS+IgG</text>
<path d="M150.2 414.9H192.1" stroke="#000" stroke-width="1.7"/>
<circle cx="171.5" cy="414.9" r="4.6"/>
<text class="tb" transform="translate(195.7 421.2) scale(0.8929 1)" font-size="15.8" textLength="87.6" lengthAdjust="spacing">PolyI:C+IgG</text>
<path d="M150.2 437.3H192.1" stroke="#000" stroke-width="1.7"/>
<path d="M171.5 431.4L177.3 441.2L165.7 441.2Z"/>
<text class="tb" transform="translate(195.7 443.6) scale(0.8929 1)" font-size="15.8" textLength="127.3" lengthAdjust="spacing">PBS+anti-ASGM<tspan class="h1">1</tspan></text>
<path d="M150.2 460.1H192.1" stroke="#000" stroke-width="1.7"/>
<path d="M165.9 456.2L177.1 456.2L171.5 466Z"/>
<text class="tb" transform="translate(195.7 466.4) scale(0.8929 1)" font-size="15.8" textLength="146.4" lengthAdjust="spacing">PolyI:C+anti-ASGM<tspan class="h1">1</tspan></text>
<text x="376.4" y="340.1" font-size="23.7" font-weight="bold" style="stroke:none">C</text>
<path d="M490.5 373.9V585.6M483.8 585.6H657M483.8 543.2H490.5M483.8 500.9H490.5M483.8 458.6H490.5M483.8 416.2H490.5M483.8 373.9H490.5" fill="none" stroke="#000" stroke-width="1.8"/>
<text x="479.4" y="593" font-size="16" text-anchor="end">0</text>
<text x="479.4" y="550.6" font-size="16" text-anchor="end">5</text>
<text x="479.4" y="508.3" font-size="16" text-anchor="end"><tspan class="h1">1</tspan>0</text>
<text x="479.4" y="465.9" font-size="16" text-anchor="end"><tspan class="h1">1</tspan>5</text>
<text x="479.4" y="423.6" font-size="16" text-anchor="end">20</text>
<text x="479.4" y="381.2" font-size="16" text-anchor="end">25</text>
<text x="568.1" y="611.7" font-size="16" text-anchor="middle">2W</text>
<text transform="translate(454.3 480.8) rotate(-90)" font-size="15.9" text-anchor="middle">HBV DNA(X<tspan class="h1">1</tspan>0<tspan font-size="11" dy="-8.5">4</tspan><tspan dy="8.5">copies/ml)</tspan></text>
<path d="M511 432.8V415.6M503.7 415.6H518.2" fill="none" stroke="#000" stroke-width="1.7"/>
<rect x="497.8" y="432.8" width="26.3" height="152.8" fill="url(#pfine)" stroke="#000" stroke-width="1.6"/>
<path d="M552 543.8V533.5M544.8 533.5H559.3" fill="none" stroke="#000" stroke-width="1.7"/>
<rect x="538.9" y="543.8" width="26.3" height="41.8" fill="url(#pcheck)" stroke="#000" stroke-width="1.6"/>
<path d="M593.4 421.1V403.5M586.1 403.5H600.6" fill="none" stroke="#000" stroke-width="1.7"/>
<rect x="580.2" y="421.1" width="26.3" height="164.5" fill="#fff" stroke="#000" stroke-width="1.6"/>
<path d="M580.2 425.5H606.5M580.2 429.9H606.5M580.2 434.3H606.5M580.2 438.6H606.5M580.2 443H606.5M580.2 447.4H606.5M580.2 451.8H606.5M580.2 456.2H606.5M580.2 460.5H606.5M580.2 464.9H606.5M580.2 469.3H606.5M580.2 473.7H606.5M580.2 478.1H606.5M580.2 482.4H606.5M580.2 486.8H606.5M580.2 491.2H606.5M580.2 495.6H606.5M580.2 500H606.5M580.2 504.3H606.5M580.2 508.7H606.5M580.2 513.1H606.5M580.2 517.5H606.5M580.2 521.9H606.5M580.2 526.2H606.5M580.2 530.6H606.5M580.2 535H606.5M580.2 539.4H606.5M580.2 543.8H606.5M580.2 548.1H606.5M580.2 552.5H606.5M580.2 556.9H606.5M580.2 561.3H606.5M580.2 565.7H606.5M580.2 570H606.5M580.2 574.4H606.5M580.2 578.8H606.5M580.2 583.2H606.5" stroke="#000" stroke-width="1.3"/>
<path d="M634.6 455.4V445.6M627.4 445.6H641.9" fill="none" stroke="#000" stroke-width="1.7"/>
<rect x="621.3" y="455.4" width="26.7" height="130.2" fill="#fff" stroke="#000" stroke-width="1.6"/>
<path d="M626.6 455.4V585.6M632 455.4V585.6M637.3 455.4V585.6M642.7 455.4V585.6" stroke="#000" stroke-width="1.3"/>
<path d="M509.7 407.1H546.7M558.3 396.7H594.7M559.5 375.9H641.5" stroke="#000" stroke-width="1.7"/>
<path d="M521.4 400.8L521.4 397.2M521.4 400.8L524.8 399.7M521.4 400.8L523.5 403.7M521.4 400.8L519.3 403.7M521.4 400.8L518 399.7" stroke="#000" stroke-width="1.7" fill="none"/>
<path d="M530.8 400.8L530.8 397.2M530.8 400.8L534.2 399.7M530.8 400.8L532.9 403.7M530.8 400.8L528.7 403.7M530.8 400.8L527.4 399.7" stroke="#000" stroke-width="1.7" fill="none"/>
<path d="M572 390.9L572 387.3M572 390.9L575.4 389.8M572 390.9L574.1 393.8M572 390.9L569.9 393.8M572 390.9L568.6 389.8" stroke="#000" stroke-width="1.7" fill="none"/>
<path d="M581.4 390.9L581.4 387.3M581.4 390.9L584.8 389.8M581.4 390.9L583.5 393.8M581.4 390.9L579.3 393.8M581.4 390.9L578 389.8" stroke="#000" stroke-width="1.7" fill="none"/>
<path d="M601.8 369.7L601.8 366.1M601.8 369.7L605.2 368.6M601.8 369.7L603.9 372.6M601.8 369.7L599.7 372.6M601.8 369.7L598.4 368.6" stroke="#000" stroke-width="1.7" fill="none"/>
<rect x="516.6" y="267.8" width="22.1" height="14" fill="url(#pfineL)" stroke="#000" stroke-width="1.7"/>
<text x="551.1" y="281.6" font-size="15.6" textLength="67.4" lengthAdjust="spacing">PBS+IgG</text>
<rect x="516.6" y="292" width="22.1" height="14" fill="url(#pcheckL)" stroke="#000" stroke-width="1.7"/>
<text x="551.1" y="305.8" font-size="15.6" textLength="86.6" lengthAdjust="spacing">PolyI:C+IgG</text>
<rect x="516.6" y="316.2" width="22.1" height="14" fill="#fff" stroke="#000" stroke-width="1.7"/>
<path d="M516.6 320.6H538.7M516.6 325H538.7M516.6 329.3H538.7" stroke="#000" stroke-width="1.4"/>
<text x="551.1" y="330.1" font-size="15.6" textLength="122.5" lengthAdjust="spacing">PBS+anti-ASGM<tspan class="h1">1</tspan></text>
<rect x="516.6" y="340.6" width="22.1" height="14" fill="#fff" stroke="#000" stroke-width="1.7"/>
<path d="M522.2 340.6V354.5M527.7 340.6V354.5M533.2 340.6V354.5" stroke="#000" stroke-width="1.4"/>
<text x="551.1" y="354.4" font-size="15.6" textLength="113.3" lengthAdjust="spacing">PolyI:C+ASGM<tspan class="h1">1</tspan></text>
<path d="M421.25 34.4L421.25 24.92L418.81 26.66L418.81 25.35L421.36 23.6L422.63 23.6L422.63 34.4Z" fill="#000" stroke="#000" stroke-width="0.3" stroke-linejoin="round"/>
<path d="M286.54 243L286.54 233.52L284.1 235.26L284.1 233.95L286.65 232.2L287.93 232.2L287.93 243ZM299.63 243L299.63 233.52L297.19 235.26L297.19 233.95L299.75 232.2L301.02 232.2L301.02 243Z" fill="#000" stroke="#000" stroke-width="0.3" stroke-linejoin="round"/>
<g transform="translate(74.8 493.5) scale(0.8929 1)"><path d="M-31.05 0L-31.05 -9.6L-33.52 -7.84L-33.52 -9.16L-30.93 -10.94L-29.65 -10.94L-29.65 0Z" fill="#000" stroke="#000" stroke-width="0.15" stroke-linejoin="round"/></g>
<g transform="translate(74.8 445.1) scale(0.8929 1)"><path d="M-31.05 0L-31.05 -9.6L-33.52 -7.84L-33.52 -9.16L-30.93 -10.94L-29.65 -10.94L-29.65 0Z" fill="#000" stroke="#000" stroke-width="0.15" stroke-linejoin="round"/></g>
<g transform="translate(125.4 606.6) scale(0.8929 1)"><path d="M-0.11 0L-0.11 -9.6L-2.58 -7.84L-2.58 -9.16L0 -10.94L1.29 -10.94L1.29 0Z" fill="#000" stroke="#000" stroke-width="0.15" stroke-linejoin="round"/></g>
<g transform="translate(195.7 443.6) scale(0.8929 1)"><path d="M122.78 0L122.78 -9.54L120.33 -7.79L120.33 -9.1L122.9 -10.87L124.18 -10.87L124.18 0Z" fill="#000" stroke="#000" stroke-width="0.15" stroke-linejoin="round"/></g>
<g transform="translate(195.7 466.4) scale(0.8929 1)"><path d="M141.88 0L141.88 -9.54L139.43 -7.79L139.43 -9.1L142 -10.87L143.28 -10.87L143.28 0Z" fill="#000" stroke="#000" stroke-width="0.15" stroke-linejoin="round"/></g>
<path d="M465.92 508.3L465.92 498.64L463.44 500.41L463.44 499.08L466.04 497.29L467.34 497.29L467.34 508.3Z" fill="#000" stroke="#000" stroke-width="0.3" stroke-linejoin="round"/>
<path d="M465.92 465.9L465.92 456.24L463.44 458.01L463.44 456.68L466.04 454.89L467.34 454.89L467.34 465.9Z" fill="#000" stroke="#000" stroke-width="0.3" stroke-linejoin="round"/>
<g transform="translate(454.3 480.8) rotate(-90)"><path d="M-0.54 0L-0.54 -9.6L-3.01 -7.84L-3.01 -9.16L-0.43 -10.94L0.86 -10.94L0.86 0Z" fill="#000" stroke="#000" stroke-width="0.3" stroke-linejoin="round"/></g>
<path d="M669.14 330.1L669.14 320.68L666.72 322.41L666.72 321.11L669.25 319.37L670.52 319.37L670.52 330.1Z" fill="#000" stroke="#000" stroke-width="0.3" stroke-linejoin="round"/>
<path d="M659.94 354.4L659.94 344.98L657.52 346.71L657.52 345.41L660.05 343.67L661.32 343.67L661.32 354.4Z" fill="#000" stroke="#000" stroke-width="0.3" stroke-linejoin="round"/></svg></body></html>
